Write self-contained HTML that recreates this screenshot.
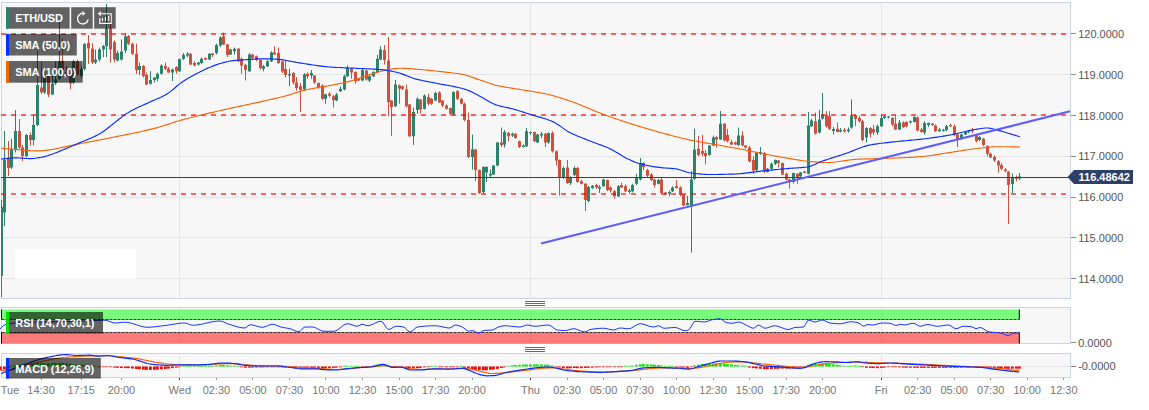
<!DOCTYPE html>
<html><head><meta charset="utf-8"><title>ETH/USD</title>
<style>html,body{margin:0;padding:0;background:#fff;overflow:hidden}body{width:1149px;height:410px;position:relative;font-family:"Liberation Sans",Arial,sans-serif}</style></head>
<body>
<svg width="1149" height="410" viewBox="0 0 1149 410" style="position:absolute;left:0;top:0">
<rect x="1.5" y="2.5" width="1069.0" height="296.0" fill="#f7f7f7" stroke="#cdd3e6" stroke-width="1"/>
<rect x="1.5" y="307.5" width="1069.0" height="36.0" fill="#f7f7f7" stroke="#cdd3e6" stroke-width="1"/>
<rect x="1.5" y="353.5" width="1069.0" height="24.0" fill="#f7f7f7" stroke="#cdd3e6" stroke-width="1"/>
<line x1="3" x2="1070" y1="33.5" y2="33.5" stroke="#e4e4e4" stroke-width="1"/>
<line x1="3" x2="1070" y1="74.5" y2="74.5" stroke="#e4e4e4" stroke-width="1"/>
<line x1="3" x2="1070" y1="115.5" y2="115.5" stroke="#e4e4e4" stroke-width="1"/>
<line x1="3" x2="1070" y1="156.5" y2="156.5" stroke="#e4e4e4" stroke-width="1"/>
<line x1="3" x2="1070" y1="197.5" y2="197.5" stroke="#e4e4e4" stroke-width="1"/>
<line x1="3" x2="1070" y1="237.5" y2="237.5" stroke="#e4e4e4" stroke-width="1"/>
<line x1="3" x2="1070" y1="278.5" y2="278.5" stroke="#e4e4e4" stroke-width="1"/>
<line x1="179.5" x2="179.5" y1="3.0" y2="298.0" stroke="#e4e4e4" stroke-width="1"/>
<line x1="179.5" x2="179.5" y1="308.0" y2="343.0" stroke="#e4e4e4" stroke-width="1"/>
<line x1="179.5" x2="179.5" y1="354.0" y2="377.0" stroke="#e4e4e4" stroke-width="1"/>
<line x1="530.5" x2="530.5" y1="3.0" y2="298.0" stroke="#e4e4e4" stroke-width="1"/>
<line x1="530.5" x2="530.5" y1="308.0" y2="343.0" stroke="#e4e4e4" stroke-width="1"/>
<line x1="530.5" x2="530.5" y1="354.0" y2="377.0" stroke="#e4e4e4" stroke-width="1"/>
<line x1="881.5" x2="881.5" y1="3.0" y2="298.0" stroke="#e4e4e4" stroke-width="1"/>
<line x1="881.5" x2="881.5" y1="308.0" y2="343.0" stroke="#e4e4e4" stroke-width="1"/>
<line x1="881.5" x2="881.5" y1="354.0" y2="377.0" stroke="#e4e4e4" stroke-width="1"/>
<rect x="15" y="249.25" width="121" height="29.5" fill="#ffffff"/>
<line x1="3" x2="1070" y1="366.5" y2="366.5" stroke="#e4e4e4" stroke-width="1"/>
<clipPath id="cp"><rect x="1" y="3" width="1069" height="295"/></clipPath>
<g id="candles" clip-path="url(#cp)">
<line x1="1.5" x2="1.5" y1="200.0" y2="297.0" stroke="#2b836c" stroke-width="1"/>
<rect x="0.0" y="207.0" width="3" height="69.00" fill="#2b836c"/>
<line x1="4.5" x2="4.5" y1="131.0" y2="226.0" stroke="#2b836c" stroke-width="1"/>
<rect x="3.0" y="160.0" width="3" height="52.50" fill="#2b836c"/>
<line x1="8.5" x2="8.5" y1="141.0" y2="176.0" stroke="#d04f3d" stroke-width="1"/>
<rect x="7.0" y="159.0" width="3" height="9.00" fill="#d04f3d"/>
<line x1="11.5" x2="11.5" y1="139.0" y2="169.0" stroke="#2b836c" stroke-width="1"/>
<rect x="10.0" y="149.0" width="3" height="18.50" fill="#2b836c"/>
<line x1="15.5" x2="15.5" y1="110.0" y2="152.5" stroke="#2b836c" stroke-width="1"/>
<rect x="14.0" y="131.0" width="3" height="18.00" fill="#2b836c"/>
<line x1="19.5" x2="19.5" y1="119.0" y2="149.0" stroke="#d04f3d" stroke-width="1"/>
<rect x="18.0" y="131.0" width="3" height="16.50" fill="#d04f3d"/>
<line x1="22.5" x2="22.5" y1="145.0" y2="161.0" stroke="#d04f3d" stroke-width="1"/>
<rect x="21.0" y="147.5" width="3" height="8.50" fill="#d04f3d"/>
<line x1="26.5" x2="26.5" y1="134.0" y2="157.0" stroke="#2b836c" stroke-width="1"/>
<rect x="25.0" y="135.0" width="3" height="21.00" fill="#2b836c"/>
<line x1="30.5" x2="30.5" y1="132.5" y2="145.5" stroke="#d04f3d" stroke-width="1"/>
<rect x="29.0" y="135.0" width="3" height="5.00" fill="#d04f3d"/>
<line x1="33.5" x2="33.5" y1="115.0" y2="145.5" stroke="#2b836c" stroke-width="1"/>
<rect x="32.0" y="125.0" width="3" height="15.00" fill="#2b836c"/>
<line x1="37.5" x2="37.5" y1="51.0" y2="126.0" stroke="#2b836c" stroke-width="1"/>
<rect x="36.0" y="85.0" width="3" height="40.00" fill="#2b836c"/>
<line x1="41.5" x2="41.5" y1="61.6" y2="93.9" stroke="#d04f3d" stroke-width="1"/>
<rect x="40.0" y="87.5" width="3" height="4.80" fill="#d04f3d"/>
<line x1="44.5" x2="44.5" y1="71.0" y2="94.0" stroke="#2b836c" stroke-width="1"/>
<rect x="43.0" y="77.0" width="3" height="15.40" fill="#2b836c"/>
<line x1="48.5" x2="48.5" y1="74.0" y2="97.0" stroke="#d04f3d" stroke-width="1"/>
<rect x="47.0" y="76.0" width="3" height="18.50" fill="#d04f3d"/>
<line x1="52.5" x2="52.5" y1="74.0" y2="95.0" stroke="#2b836c" stroke-width="1"/>
<rect x="51.0" y="83.5" width="3" height="11.00" fill="#2b836c"/>
<line x1="55.5" x2="55.5" y1="61.5" y2="85.0" stroke="#2b836c" stroke-width="1"/>
<rect x="54.0" y="79.5" width="3" height="4.00" fill="#2b836c"/>
<line x1="59.5" x2="59.5" y1="22.0" y2="80.0" stroke="#2b836c" stroke-width="1"/>
<rect x="58.0" y="61.5" width="3" height="17.50" fill="#2b836c"/>
<line x1="62.5" x2="62.5" y1="38.5" y2="72.7" stroke="#d04f3d" stroke-width="1"/>
<rect x="61.0" y="60.7" width="3" height="9.30" fill="#d04f3d"/>
<line x1="66.5" x2="66.5" y1="66.0" y2="76.0" stroke="#d04f3d" stroke-width="1"/>
<rect x="65.0" y="72.0" width="3" height="2.00" fill="#d04f3d"/>
<line x1="70.5" x2="70.5" y1="69.0" y2="89.0" stroke="#d04f3d" stroke-width="1"/>
<rect x="69.0" y="73.5" width="3" height="10.00" fill="#d04f3d"/>
<line x1="73.5" x2="73.5" y1="60.0" y2="84.0" stroke="#2b836c" stroke-width="1"/>
<rect x="72.0" y="61.5" width="3" height="21.00" fill="#2b836c"/>
<line x1="77.5" x2="77.5" y1="59.5" y2="76.0" stroke="#d04f3d" stroke-width="1"/>
<rect x="76.0" y="61.5" width="3" height="13.00" fill="#d04f3d"/>
<line x1="81.5" x2="81.5" y1="66.0" y2="78.0" stroke="#2b836c" stroke-width="1"/>
<rect x="80.0" y="69.0" width="3" height="7.00" fill="#2b836c"/>
<line x1="84.5" x2="84.5" y1="43.0" y2="70.5" stroke="#2b836c" stroke-width="1"/>
<rect x="83.0" y="44.0" width="3" height="25.00" fill="#2b836c"/>
<line x1="88.5" x2="88.5" y1="35.0" y2="64.0" stroke="#d04f3d" stroke-width="1"/>
<rect x="87.0" y="43.0" width="3" height="5.50" fill="#d04f3d"/>
<line x1="92.5" x2="92.5" y1="43.0" y2="64.0" stroke="#d04f3d" stroke-width="1"/>
<rect x="91.0" y="48.5" width="3" height="14.00" fill="#d04f3d"/>
<line x1="95.5" x2="95.5" y1="49.5" y2="64.0" stroke="#2b836c" stroke-width="1"/>
<rect x="94.0" y="59.5" width="3" height="3.00" fill="#2b836c"/>
<line x1="99.5" x2="99.5" y1="47.5" y2="61.5" stroke="#2b836c" stroke-width="1"/>
<rect x="98.0" y="49.5" width="3" height="10.00" fill="#2b836c"/>
<line x1="103.5" x2="103.5" y1="45.0" y2="57.0" stroke="#2b836c" stroke-width="1"/>
<rect x="102.0" y="46.0" width="3" height="3.50" fill="#2b836c"/>
<line x1="106.5" x2="106.5" y1="4.0" y2="57.0" stroke="#2b836c" stroke-width="1"/>
<rect x="105.0" y="28.5" width="3" height="17.50" fill="#2b836c"/>
<line x1="110.5" x2="110.5" y1="16.0" y2="62.5" stroke="#d04f3d" stroke-width="1"/>
<rect x="109.0" y="28.5" width="3" height="21.00" fill="#d04f3d"/>
<line x1="114.5" x2="114.5" y1="40.5" y2="62.5" stroke="#d04f3d" stroke-width="1"/>
<rect x="113.0" y="42.0" width="3" height="17.50" fill="#d04f3d"/>
<line x1="117.5" x2="117.5" y1="50.5" y2="61.5" stroke="#2b836c" stroke-width="1"/>
<rect x="116.0" y="53.0" width="3" height="7.50" fill="#2b836c"/>
<line x1="121.5" x2="121.5" y1="39.5" y2="60.5" stroke="#2b836c" stroke-width="1"/>
<rect x="120.0" y="51.5" width="3" height="8.00" fill="#2b836c"/>
<line x1="125.5" x2="125.5" y1="33.0" y2="53.0" stroke="#2b836c" stroke-width="1"/>
<rect x="124.0" y="36.5" width="3" height="14.00" fill="#2b836c"/>
<line x1="128.5" x2="128.5" y1="35.0" y2="45.0" stroke="#d04f3d" stroke-width="1"/>
<rect x="127.0" y="36.0" width="3" height="7.75" fill="#d04f3d"/>
<line x1="132.5" x2="132.5" y1="42.5" y2="55.0" stroke="#d04f3d" stroke-width="1"/>
<rect x="131.0" y="43.75" width="3" height="10.00" fill="#d04f3d"/>
<line x1="136.5" x2="136.5" y1="43.75" y2="73.75" stroke="#d04f3d" stroke-width="1"/>
<rect x="135.0" y="53.75" width="3" height="16.25" fill="#d04f3d"/>
<line x1="139.5" x2="139.5" y1="62.5" y2="75.0" stroke="#2b836c" stroke-width="1"/>
<rect x="138.0" y="66.0" width="3" height="4.00" fill="#2b836c"/>
<line x1="143.5" x2="143.5" y1="65.0" y2="77.5" stroke="#d04f3d" stroke-width="1"/>
<rect x="142.0" y="66.0" width="3" height="10.00" fill="#d04f3d"/>
<line x1="146.5" x2="146.5" y1="72.5" y2="85.0" stroke="#d04f3d" stroke-width="1"/>
<rect x="145.0" y="75.0" width="3" height="9.50" fill="#d04f3d"/>
<line x1="150.5" x2="150.5" y1="71.25" y2="84.5" stroke="#2b836c" stroke-width="1"/>
<rect x="149.0" y="80.0" width="3" height="3.75" fill="#2b836c"/>
<line x1="154.5" x2="154.5" y1="77.5" y2="82.5" stroke="#2b836c" stroke-width="1"/>
<rect x="153.0" y="77.5" width="3" height="2.50" fill="#2b836c"/>
<line x1="157.5" x2="157.5" y1="72.5" y2="81.25" stroke="#2b836c" stroke-width="1"/>
<rect x="156.0" y="73.75" width="3" height="5.00" fill="#2b836c"/>
<line x1="161.5" x2="161.5" y1="64.5" y2="74.5" stroke="#2b836c" stroke-width="1"/>
<rect x="160.0" y="65.5" width="3" height="8.25" fill="#2b836c"/>
<line x1="165.5" x2="165.5" y1="62.5" y2="70.0" stroke="#d04f3d" stroke-width="1"/>
<rect x="164.0" y="66.0" width="3" height="2.75" fill="#d04f3d"/>
<line x1="168.5" x2="168.5" y1="67.0" y2="73.0" stroke="#d04f3d" stroke-width="1"/>
<rect x="167.0" y="68.75" width="3" height="3.75" fill="#d04f3d"/>
<line x1="172.5" x2="172.5" y1="68.75" y2="81.0" stroke="#2b836c" stroke-width="1"/>
<rect x="171.0" y="69.5" width="3" height="3.00" fill="#2b836c"/>
<line x1="176.5" x2="176.5" y1="66.25" y2="73.75" stroke="#d04f3d" stroke-width="1"/>
<rect x="175.0" y="67.0" width="3" height="4.25" fill="#d04f3d"/>
<line x1="179.5" x2="179.5" y1="58.75" y2="72.0" stroke="#2b836c" stroke-width="1"/>
<rect x="178.0" y="59.0" width="3" height="12.25" fill="#2b836c"/>
<line x1="183.5" x2="183.5" y1="53.0" y2="60.0" stroke="#2b836c" stroke-width="1"/>
<rect x="182.0" y="55.0" width="3" height="3.75" fill="#2b836c"/>
<line x1="187.5" x2="187.5" y1="52.0" y2="57.0" stroke="#2b836c" stroke-width="1"/>
<rect x="186.0" y="53.75" width="3" height="1.75" fill="#2b836c"/>
<line x1="190.5" x2="190.5" y1="53.0" y2="65.0" stroke="#d04f3d" stroke-width="1"/>
<rect x="189.0" y="53.75" width="3" height="10.75" fill="#d04f3d"/>
<line x1="194.5" x2="194.5" y1="61.25" y2="66.25" stroke="#d04f3d" stroke-width="1"/>
<rect x="193.0" y="63.0" width="3" height="2.50" fill="#d04f3d"/>
<line x1="198.5" x2="198.5" y1="62.0" y2="65.5" stroke="#2b836c" stroke-width="1"/>
<rect x="197.0" y="62.5" width="3" height="2.00" fill="#2b836c"/>
<line x1="201.5" x2="201.5" y1="57.5" y2="63.75" stroke="#2b836c" stroke-width="1"/>
<rect x="200.0" y="58.75" width="3" height="4.25" fill="#2b836c"/>
<line x1="205.5" x2="205.5" y1="57.5" y2="60.0" stroke="#d04f3d" stroke-width="1"/>
<rect x="204.0" y="58.0" width="3" height="1.50" fill="#d04f3d"/>
<line x1="209.5" x2="209.5" y1="53.0" y2="60.0" stroke="#2b836c" stroke-width="1"/>
<rect x="208.0" y="53.75" width="3" height="5.75" fill="#2b836c"/>
<line x1="212.5" x2="212.5" y1="53.0" y2="57.0" stroke="#d04f3d" stroke-width="1"/>
<rect x="211.0" y="53.5" width="3" height="1.50" fill="#d04f3d"/>
<line x1="216.5" x2="216.5" y1="43.75" y2="54.5" stroke="#2b836c" stroke-width="1"/>
<rect x="215.0" y="45.0" width="3" height="8.00" fill="#2b836c"/>
<line x1="220.5" x2="220.5" y1="36.25" y2="47.0" stroke="#2b836c" stroke-width="1"/>
<rect x="219.0" y="37.5" width="3" height="8.00" fill="#2b836c"/>
<line x1="223.5" x2="223.5" y1="32.5" y2="45.0" stroke="#d04f3d" stroke-width="1"/>
<rect x="222.0" y="36.25" width="3" height="8.25" fill="#d04f3d"/>
<line x1="227.5" x2="227.5" y1="43.75" y2="57.0" stroke="#d04f3d" stroke-width="1"/>
<rect x="226.0" y="44.5" width="3" height="10.50" fill="#d04f3d"/>
<line x1="230.5" x2="230.5" y1="48.75" y2="55.0" stroke="#2b836c" stroke-width="1"/>
<rect x="229.0" y="49.5" width="3" height="5.00" fill="#2b836c"/>
<line x1="234.5" x2="234.5" y1="47.5" y2="54.5" stroke="#2b836c" stroke-width="1"/>
<rect x="233.0" y="48.75" width="3" height="2.50" fill="#2b836c"/>
<line x1="238.5" x2="238.5" y1="48.0" y2="62.0" stroke="#d04f3d" stroke-width="1"/>
<rect x="237.0" y="48.75" width="3" height="12.50" fill="#d04f3d"/>
<line x1="241.5" x2="241.5" y1="57.5" y2="73.75" stroke="#d04f3d" stroke-width="1"/>
<rect x="240.0" y="58.75" width="3" height="6.75" fill="#d04f3d"/>
<line x1="245.5" x2="245.5" y1="63.75" y2="80.5" stroke="#d04f3d" stroke-width="1"/>
<rect x="244.0" y="65.0" width="3" height="5.00" fill="#d04f3d"/>
<line x1="249.5" x2="249.5" y1="53.0" y2="72.0" stroke="#2b836c" stroke-width="1"/>
<rect x="248.0" y="54.5" width="3" height="16.75" fill="#2b836c"/>
<line x1="252.5" x2="252.5" y1="53.75" y2="59.5" stroke="#d04f3d" stroke-width="1"/>
<rect x="251.0" y="54.5" width="3" height="3.50" fill="#d04f3d"/>
<line x1="256.5" x2="256.5" y1="55.5" y2="61.25" stroke="#d04f3d" stroke-width="1"/>
<rect x="255.0" y="56.25" width="3" height="3.75" fill="#d04f3d"/>
<line x1="260.5" x2="260.5" y1="59.5" y2="69.5" stroke="#d04f3d" stroke-width="1"/>
<rect x="259.0" y="60.0" width="3" height="8.00" fill="#d04f3d"/>
<line x1="263.5" x2="263.5" y1="65.0" y2="71.25" stroke="#2b836c" stroke-width="1"/>
<rect x="262.0" y="66.25" width="3" height="2.50" fill="#2b836c"/>
<line x1="267.5" x2="267.5" y1="60.0" y2="67.0" stroke="#2b836c" stroke-width="1"/>
<rect x="266.0" y="61.25" width="3" height="5.00" fill="#2b836c"/>
<line x1="271.5" x2="271.5" y1="51.25" y2="62.0" stroke="#2b836c" stroke-width="1"/>
<rect x="270.0" y="52.5" width="3" height="8.75" fill="#2b836c"/>
<line x1="274.5" x2="274.5" y1="46.25" y2="55.0" stroke="#d04f3d" stroke-width="1"/>
<rect x="273.0" y="52.5" width="3" height="2.00" fill="#d04f3d"/>
<line x1="278.5" x2="278.5" y1="47.5" y2="63.75" stroke="#d04f3d" stroke-width="1"/>
<rect x="277.0" y="53.0" width="3" height="10.00" fill="#d04f3d"/>
<line x1="282.5" x2="282.5" y1="60.5" y2="73.0" stroke="#d04f3d" stroke-width="1"/>
<rect x="281.0" y="61.5" width="3" height="10.00" fill="#d04f3d"/>
<line x1="285.5" x2="285.5" y1="60.0" y2="77.5" stroke="#d04f3d" stroke-width="1"/>
<rect x="284.0" y="69.0" width="3" height="6.00" fill="#d04f3d"/>
<line x1="289.5" x2="289.5" y1="68.75" y2="86.0" stroke="#2b836c" stroke-width="1"/>
<rect x="288.0" y="74.0" width="3" height="1.50" fill="#2b836c"/>
<line x1="293.5" x2="293.5" y1="72.0" y2="84.5" stroke="#d04f3d" stroke-width="1"/>
<rect x="292.0" y="73.0" width="3" height="9.50" fill="#d04f3d"/>
<line x1="296.5" x2="296.5" y1="77.0" y2="90.5" stroke="#d04f3d" stroke-width="1"/>
<rect x="295.0" y="82.5" width="3" height="5.50" fill="#d04f3d"/>
<line x1="300.5" x2="300.5" y1="83.0" y2="112.0" stroke="#d04f3d" stroke-width="1"/>
<rect x="299.0" y="86.25" width="3" height="3.75" fill="#d04f3d"/>
<line x1="304.5" x2="304.5" y1="73.0" y2="91.25" stroke="#2b836c" stroke-width="1"/>
<rect x="303.0" y="74.5" width="3" height="15.00" fill="#2b836c"/>
<line x1="307.5" x2="307.5" y1="72.5" y2="78.75" stroke="#d04f3d" stroke-width="1"/>
<rect x="306.0" y="73.75" width="3" height="2.50" fill="#d04f3d"/>
<line x1="311.5" x2="311.5" y1="70.0" y2="78.75" stroke="#2b836c" stroke-width="1"/>
<rect x="310.0" y="73.0" width="3" height="2.50" fill="#2b836c"/>
<line x1="314.5" x2="314.5" y1="75.0" y2="83.75" stroke="#d04f3d" stroke-width="1"/>
<rect x="313.0" y="75.5" width="3" height="7.00" fill="#d04f3d"/>
<line x1="318.5" x2="318.5" y1="82.5" y2="88.75" stroke="#d04f3d" stroke-width="1"/>
<rect x="317.0" y="83.0" width="3" height="4.50" fill="#d04f3d"/>
<line x1="322.5" x2="322.5" y1="84.5" y2="100.0" stroke="#d04f3d" stroke-width="1"/>
<rect x="321.0" y="85.5" width="3" height="13.25" fill="#d04f3d"/>
<line x1="325.5" x2="325.5" y1="93.75" y2="103.75" stroke="#2b836c" stroke-width="1"/>
<rect x="324.0" y="94.25" width="3" height="4.50" fill="#2b836c"/>
<line x1="329.5" x2="329.5" y1="92.0" y2="97.5" stroke="#d04f3d" stroke-width="1"/>
<rect x="328.0" y="93.75" width="3" height="2.00" fill="#d04f3d"/>
<line x1="333.5" x2="333.5" y1="95.0" y2="107.5" stroke="#d04f3d" stroke-width="1"/>
<rect x="332.0" y="96.25" width="3" height="3.75" fill="#d04f3d"/>
<line x1="336.5" x2="336.5" y1="93.0" y2="101.25" stroke="#2b836c" stroke-width="1"/>
<rect x="335.0" y="94.5" width="3" height="6.00" fill="#2b836c"/>
<line x1="340.5" x2="340.5" y1="86.25" y2="92.0" stroke="#2b836c" stroke-width="1"/>
<rect x="339.0" y="88.75" width="3" height="2.50" fill="#2b836c"/>
<line x1="344.5" x2="344.5" y1="74.5" y2="90.5" stroke="#2b836c" stroke-width="1"/>
<rect x="343.0" y="76.25" width="3" height="13.25" fill="#2b836c"/>
<line x1="347.5" x2="347.5" y1="65.5" y2="77.0" stroke="#2b836c" stroke-width="1"/>
<rect x="346.0" y="68.0" width="3" height="8.25" fill="#2b836c"/>
<line x1="351.5" x2="351.5" y1="68.0" y2="78.75" stroke="#d04f3d" stroke-width="1"/>
<rect x="350.0" y="68.75" width="3" height="3.75" fill="#d04f3d"/>
<line x1="355.5" x2="355.5" y1="71.25" y2="83.75" stroke="#d04f3d" stroke-width="1"/>
<rect x="354.0" y="72.0" width="3" height="9.25" fill="#d04f3d"/>
<line x1="358.5" x2="358.5" y1="78.0" y2="81.0" stroke="#d04f3d" stroke-width="1"/>
<rect x="357.0" y="78.75" width="3" height="1.75" fill="#d04f3d"/>
<line x1="362.5" x2="362.5" y1="68.75" y2="81.25" stroke="#2b836c" stroke-width="1"/>
<rect x="361.0" y="70.0" width="3" height="10.50" fill="#2b836c"/>
<line x1="366.5" x2="366.5" y1="69.5" y2="80.5" stroke="#d04f3d" stroke-width="1"/>
<rect x="365.0" y="70.5" width="3" height="9.00" fill="#d04f3d"/>
<line x1="369.5" x2="369.5" y1="75.0" y2="82.0" stroke="#2b836c" stroke-width="1"/>
<rect x="368.0" y="76.25" width="3" height="4.25" fill="#2b836c"/>
<line x1="373.5" x2="373.5" y1="71.25" y2="77.0" stroke="#2b836c" stroke-width="1"/>
<rect x="372.0" y="72.0" width="3" height="4.25" fill="#2b836c"/>
<line x1="377.5" x2="377.5" y1="55.0" y2="72.5" stroke="#2b836c" stroke-width="1"/>
<rect x="376.0" y="58.75" width="3" height="13.25" fill="#2b836c"/>
<line x1="380.5" x2="380.5" y1="46.25" y2="60.0" stroke="#2b836c" stroke-width="1"/>
<rect x="379.0" y="49.5" width="3" height="10.00" fill="#2b836c"/>
<line x1="384.5" x2="384.5" y1="45.0" y2="64.5" stroke="#d04f3d" stroke-width="1"/>
<rect x="383.0" y="50.0" width="3" height="10.00" fill="#d04f3d"/>
<line x1="388.5" x2="388.5" y1="37.0" y2="116.0" stroke="#d04f3d" stroke-width="1"/>
<rect x="387.0" y="60.5" width="3" height="41.50" fill="#d04f3d"/>
<line x1="391.5" x2="391.5" y1="100.0" y2="136.0" stroke="#d04f3d" stroke-width="1"/>
<rect x="390.0" y="100.5" width="3" height="6.50" fill="#d04f3d"/>
<line x1="395.5" x2="395.5" y1="80.0" y2="107.0" stroke="#2b836c" stroke-width="1"/>
<rect x="394.0" y="84.5" width="3" height="21.75" fill="#2b836c"/>
<line x1="399.5" x2="399.5" y1="84.5" y2="103.75" stroke="#d04f3d" stroke-width="1"/>
<rect x="398.0" y="85.5" width="3" height="3.25" fill="#d04f3d"/>
<line x1="402.5" x2="402.5" y1="85.5" y2="90.0" stroke="#d04f3d" stroke-width="1"/>
<rect x="401.0" y="86.25" width="3" height="2.50" fill="#d04f3d"/>
<line x1="406.5" x2="406.5" y1="84.5" y2="107.5" stroke="#d04f3d" stroke-width="1"/>
<rect x="405.0" y="89.5" width="3" height="16.75" fill="#d04f3d"/>
<line x1="409.5" x2="409.5" y1="104.0" y2="137.0" stroke="#d04f3d" stroke-width="1"/>
<rect x="408.0" y="104.5" width="3" height="31.75" fill="#d04f3d"/>
<line x1="413.5" x2="413.5" y1="107.5" y2="145.0" stroke="#2b836c" stroke-width="1"/>
<rect x="412.0" y="112.0" width="3" height="24.25" fill="#2b836c"/>
<line x1="417.5" x2="417.5" y1="97.5" y2="113.75" stroke="#2b836c" stroke-width="1"/>
<rect x="416.0" y="98.75" width="3" height="11.25" fill="#2b836c"/>
<line x1="420.5" x2="420.5" y1="98.75" y2="113.75" stroke="#d04f3d" stroke-width="1"/>
<rect x="419.0" y="99.5" width="3" height="10.00" fill="#d04f3d"/>
<line x1="424.5" x2="424.5" y1="94.5" y2="109.5" stroke="#2b836c" stroke-width="1"/>
<rect x="423.0" y="95.5" width="3" height="13.25" fill="#2b836c"/>
<line x1="428.5" x2="428.5" y1="93.75" y2="105.5" stroke="#d04f3d" stroke-width="1"/>
<rect x="427.0" y="97.0" width="3" height="6.75" fill="#d04f3d"/>
<line x1="431.5" x2="431.5" y1="98.0" y2="105.0" stroke="#d04f3d" stroke-width="1"/>
<rect x="430.0" y="98.75" width="3" height="5.00" fill="#d04f3d"/>
<line x1="435.5" x2="435.5" y1="92.0" y2="101.25" stroke="#2b836c" stroke-width="1"/>
<rect x="434.0" y="93.0" width="3" height="7.50" fill="#2b836c"/>
<line x1="439.5" x2="439.5" y1="91.25" y2="103.0" stroke="#d04f3d" stroke-width="1"/>
<rect x="438.0" y="92.5" width="3" height="10.00" fill="#d04f3d"/>
<line x1="442.5" x2="442.5" y1="100.0" y2="107.0" stroke="#d04f3d" stroke-width="1"/>
<rect x="441.0" y="100.5" width="3" height="5.00" fill="#d04f3d"/>
<line x1="446.5" x2="446.5" y1="104.5" y2="109.5" stroke="#d04f3d" stroke-width="1"/>
<rect x="445.0" y="105.5" width="3" height="3.25" fill="#d04f3d"/>
<line x1="450.5" x2="450.5" y1="107.5" y2="115.0" stroke="#d04f3d" stroke-width="1"/>
<rect x="449.0" y="108.0" width="3" height="5.75" fill="#d04f3d"/>
<line x1="453.5" x2="453.5" y1="91.25" y2="115.0" stroke="#2b836c" stroke-width="1"/>
<rect x="452.0" y="92.0" width="3" height="22.50" fill="#2b836c"/>
<line x1="457.5" x2="457.5" y1="90.0" y2="100.0" stroke="#d04f3d" stroke-width="1"/>
<rect x="456.0" y="91.25" width="3" height="7.50" fill="#d04f3d"/>
<line x1="461.5" x2="461.5" y1="98.0" y2="104.5" stroke="#d04f3d" stroke-width="1"/>
<rect x="460.0" y="98.75" width="3" height="5.00" fill="#d04f3d"/>
<line x1="464.5" x2="464.5" y1="102.5" y2="121.25" stroke="#d04f3d" stroke-width="1"/>
<rect x="463.0" y="103.75" width="3" height="16.25" fill="#d04f3d"/>
<line x1="468.5" x2="468.5" y1="112.5" y2="158.0" stroke="#d04f3d" stroke-width="1"/>
<rect x="467.0" y="120.0" width="3" height="37.00" fill="#d04f3d"/>
<line x1="472.5" x2="472.5" y1="134.5" y2="169.5" stroke="#2b836c" stroke-width="1"/>
<rect x="471.0" y="149.5" width="3" height="7.50" fill="#2b836c"/>
<line x1="475.5" x2="475.5" y1="148.75" y2="181.0" stroke="#d04f3d" stroke-width="1"/>
<rect x="474.0" y="149.5" width="3" height="20.50" fill="#d04f3d"/>
<line x1="479.5" x2="479.5" y1="169.5" y2="194.0" stroke="#d04f3d" stroke-width="1"/>
<rect x="478.0" y="170.0" width="3" height="23.00" fill="#d04f3d"/>
<line x1="483.5" x2="483.5" y1="166.25" y2="194.0" stroke="#2b836c" stroke-width="1"/>
<rect x="482.0" y="167.0" width="3" height="25.00" fill="#2b836c"/>
<line x1="486.5" x2="486.5" y1="166.25" y2="182.0" stroke="#2b836c" stroke-width="1"/>
<rect x="485.0" y="167.0" width="3" height="5.50" fill="#2b836c"/>
<line x1="490.5" x2="490.5" y1="169.5" y2="177.0" stroke="#2b836c" stroke-width="1"/>
<rect x="489.0" y="173.75" width="3" height="1.75" fill="#2b836c"/>
<line x1="493.5" x2="493.5" y1="165.0" y2="175.0" stroke="#2b836c" stroke-width="1"/>
<rect x="492.0" y="165.5" width="3" height="9.00" fill="#2b836c"/>
<line x1="497.5" x2="497.5" y1="142.0" y2="166.25" stroke="#2b836c" stroke-width="1"/>
<rect x="496.0" y="142.5" width="3" height="23.00" fill="#2b836c"/>
<line x1="501.5" x2="501.5" y1="127.5" y2="147.0" stroke="#d04f3d" stroke-width="1"/>
<rect x="500.0" y="142.5" width="3" height="2.50" fill="#d04f3d"/>
<line x1="504.5" x2="504.5" y1="130.0" y2="147.5" stroke="#2b836c" stroke-width="1"/>
<rect x="503.0" y="132.0" width="3" height="12.50" fill="#2b836c"/>
<line x1="508.5" x2="508.5" y1="132.0" y2="141.25" stroke="#d04f3d" stroke-width="1"/>
<rect x="507.0" y="133.0" width="3" height="3.25" fill="#d04f3d"/>
<line x1="512.5" x2="512.5" y1="132.5" y2="137.0" stroke="#2b836c" stroke-width="1"/>
<rect x="511.0" y="133.75" width="3" height="1.75" fill="#2b836c"/>
<line x1="515.5" x2="515.5" y1="133.0" y2="138.75" stroke="#d04f3d" stroke-width="1"/>
<rect x="514.0" y="133.75" width="3" height="4.25" fill="#d04f3d"/>
<line x1="519.5" x2="519.5" y1="140.5" y2="148.0" stroke="#d04f3d" stroke-width="1"/>
<rect x="518.0" y="141.25" width="3" height="5.75" fill="#d04f3d"/>
<line x1="523.5" x2="523.5" y1="144.5" y2="147.5" stroke="#2b836c" stroke-width="1"/>
<rect x="522.0" y="145.5" width="3" height="1.50" fill="#2b836c"/>
<line x1="526.5" x2="526.5" y1="128.0" y2="147.0" stroke="#2b836c" stroke-width="1"/>
<rect x="525.0" y="131.25" width="3" height="15.00" fill="#2b836c"/>
<line x1="530.5" x2="530.5" y1="131.5" y2="135.0" stroke="#2b836c" stroke-width="1"/>
<rect x="529.0" y="132.0" width="3" height="1.00" fill="#2b836c"/>
<line x1="534.5" x2="534.5" y1="131.5" y2="142.0" stroke="#d04f3d" stroke-width="1"/>
<rect x="533.0" y="132.0" width="3" height="9.25" fill="#d04f3d"/>
<line x1="537.5" x2="537.5" y1="133.75" y2="143.0" stroke="#2b836c" stroke-width="1"/>
<rect x="536.0" y="134.5" width="3" height="8.00" fill="#2b836c"/>
<line x1="541.5" x2="541.5" y1="132.0" y2="138.0" stroke="#2b836c" stroke-width="1"/>
<rect x="540.0" y="133.75" width="3" height="1.75" fill="#2b836c"/>
<line x1="545.5" x2="545.5" y1="133.0" y2="147.0" stroke="#d04f3d" stroke-width="1"/>
<rect x="544.0" y="133.75" width="3" height="8.75" fill="#d04f3d"/>
<line x1="548.5" x2="548.5" y1="132.5" y2="143.75" stroke="#2b836c" stroke-width="1"/>
<rect x="547.0" y="133.0" width="3" height="9.50" fill="#2b836c"/>
<line x1="552.5" x2="552.5" y1="131.25" y2="152.5" stroke="#d04f3d" stroke-width="1"/>
<rect x="551.0" y="133.0" width="3" height="18.25" fill="#d04f3d"/>
<line x1="556.5" x2="556.5" y1="150.5" y2="165.5" stroke="#d04f3d" stroke-width="1"/>
<rect x="555.0" y="151.25" width="3" height="9.25" fill="#d04f3d"/>
<line x1="559.5" x2="559.5" y1="159.5" y2="195.5" stroke="#d04f3d" stroke-width="1"/>
<rect x="558.0" y="160.0" width="3" height="17.50" fill="#d04f3d"/>
<line x1="563.5" x2="563.5" y1="166.5" y2="179.0" stroke="#2b836c" stroke-width="1"/>
<rect x="562.0" y="168.0" width="3" height="9.50" fill="#2b836c"/>
<line x1="567.5" x2="567.5" y1="160.0" y2="183.75" stroke="#d04f3d" stroke-width="1"/>
<rect x="566.0" y="167.5" width="3" height="15.50" fill="#d04f3d"/>
<line x1="570.5" x2="570.5" y1="176.25" y2="185.0" stroke="#2b836c" stroke-width="1"/>
<rect x="569.0" y="177.5" width="3" height="5.50" fill="#2b836c"/>
<line x1="574.5" x2="574.5" y1="166.25" y2="176.25" stroke="#2b836c" stroke-width="1"/>
<rect x="573.0" y="168.0" width="3" height="7.00" fill="#2b836c"/>
<line x1="577.5" x2="577.5" y1="167.0" y2="183.0" stroke="#d04f3d" stroke-width="1"/>
<rect x="576.0" y="168.0" width="3" height="14.00" fill="#d04f3d"/>
<line x1="581.5" x2="581.5" y1="180.0" y2="184.5" stroke="#d04f3d" stroke-width="1"/>
<rect x="580.0" y="181.25" width="3" height="2.50" fill="#d04f3d"/>
<line x1="585.5" x2="585.5" y1="183.0" y2="211.0" stroke="#d04f3d" stroke-width="1"/>
<rect x="584.0" y="183.75" width="3" height="16.25" fill="#d04f3d"/>
<line x1="588.5" x2="588.5" y1="186.0" y2="202.5" stroke="#2b836c" stroke-width="1"/>
<rect x="587.0" y="187.0" width="3" height="14.00" fill="#2b836c"/>
<line x1="592.5" x2="592.5" y1="185.0" y2="189.0" stroke="#2b836c" stroke-width="1"/>
<rect x="591.0" y="185.5" width="3" height="2.50" fill="#2b836c"/>
<line x1="596.5" x2="596.5" y1="183.75" y2="188.75" stroke="#d04f3d" stroke-width="1"/>
<rect x="595.0" y="185.0" width="3" height="2.50" fill="#d04f3d"/>
<line x1="599.5" x2="599.5" y1="185.0" y2="193.0" stroke="#2b836c" stroke-width="1"/>
<rect x="598.0" y="187.0" width="3" height="1.75" fill="#2b836c"/>
<line x1="603.5" x2="603.5" y1="178.75" y2="187.0" stroke="#2b836c" stroke-width="1"/>
<rect x="602.0" y="179.5" width="3" height="6.75" fill="#2b836c"/>
<line x1="607.5" x2="607.5" y1="179.5" y2="191.25" stroke="#d04f3d" stroke-width="1"/>
<rect x="606.0" y="180.0" width="3" height="10.00" fill="#d04f3d"/>
<line x1="610.5" x2="610.5" y1="186.25" y2="192.5" stroke="#d04f3d" stroke-width="1"/>
<rect x="609.0" y="187.5" width="3" height="3.00" fill="#d04f3d"/>
<line x1="614.5" x2="614.5" y1="190.0" y2="198.75" stroke="#d04f3d" stroke-width="1"/>
<rect x="613.0" y="191.25" width="3" height="5.00" fill="#d04f3d"/>
<line x1="618.5" x2="618.5" y1="185.0" y2="197.0" stroke="#2b836c" stroke-width="1"/>
<rect x="617.0" y="186.25" width="3" height="10.00" fill="#2b836c"/>
<line x1="621.5" x2="621.5" y1="182.5" y2="188.0" stroke="#d04f3d" stroke-width="1"/>
<rect x="620.0" y="185.0" width="3" height="2.50" fill="#d04f3d"/>
<line x1="625.5" x2="625.5" y1="184.5" y2="192.0" stroke="#d04f3d" stroke-width="1"/>
<rect x="624.0" y="186.25" width="3" height="5.00" fill="#d04f3d"/>
<line x1="629.5" x2="629.5" y1="188.75" y2="193.75" stroke="#2b836c" stroke-width="1"/>
<rect x="628.0" y="190.5" width="3" height="1.50" fill="#2b836c"/>
<line x1="632.5" x2="632.5" y1="183.75" y2="192.5" stroke="#2b836c" stroke-width="1"/>
<rect x="631.0" y="185.0" width="3" height="6.25" fill="#2b836c"/>
<line x1="636.5" x2="636.5" y1="173.75" y2="185.0" stroke="#2b836c" stroke-width="1"/>
<rect x="635.0" y="177.0" width="3" height="6.75" fill="#2b836c"/>
<line x1="640.5" x2="640.5" y1="158.0" y2="180.5" stroke="#2b836c" stroke-width="1"/>
<rect x="639.0" y="163.0" width="3" height="16.50" fill="#2b836c"/>
<line x1="643.5" x2="643.5" y1="162.0" y2="170.0" stroke="#d04f3d" stroke-width="1"/>
<rect x="642.0" y="163.0" width="3" height="4.00" fill="#d04f3d"/>
<line x1="647.5" x2="647.5" y1="168.75" y2="177.0" stroke="#d04f3d" stroke-width="1"/>
<rect x="646.0" y="170.0" width="3" height="5.50" fill="#d04f3d"/>
<line x1="651.5" x2="651.5" y1="173.0" y2="181.25" stroke="#d04f3d" stroke-width="1"/>
<rect x="650.0" y="174.5" width="3" height="5.50" fill="#d04f3d"/>
<line x1="654.5" x2="654.5" y1="178.75" y2="187.5" stroke="#d04f3d" stroke-width="1"/>
<rect x="653.0" y="179.5" width="3" height="5.50" fill="#d04f3d"/>
<line x1="658.5" x2="658.5" y1="178.75" y2="184.5" stroke="#2b836c" stroke-width="1"/>
<rect x="657.0" y="180.0" width="3" height="3.75" fill="#2b836c"/>
<line x1="661.5" x2="661.5" y1="177.5" y2="193.75" stroke="#d04f3d" stroke-width="1"/>
<rect x="660.0" y="179.5" width="3" height="13.50" fill="#d04f3d"/>
<line x1="665.5" x2="665.5" y1="192.0" y2="195.0" stroke="#d04f3d" stroke-width="1"/>
<rect x="664.0" y="192.5" width="3" height="2.00" fill="#d04f3d"/>
<line x1="669.5" x2="669.5" y1="190.5" y2="196.25" stroke="#2b836c" stroke-width="1"/>
<rect x="668.0" y="192.0" width="3" height="1.75" fill="#2b836c"/>
<line x1="672.5" x2="672.5" y1="186.25" y2="192.0" stroke="#2b836c" stroke-width="1"/>
<rect x="671.0" y="187.5" width="3" height="3.75" fill="#2b836c"/>
<line x1="676.5" x2="676.5" y1="180.0" y2="188.75" stroke="#d04f3d" stroke-width="1"/>
<rect x="675.0" y="186.25" width="3" height="1.75" fill="#d04f3d"/>
<line x1="680.5" x2="680.5" y1="186.25" y2="196.25" stroke="#d04f3d" stroke-width="1"/>
<rect x="679.0" y="187.5" width="3" height="7.50" fill="#d04f3d"/>
<line x1="683.5" x2="683.5" y1="194.0" y2="206.0" stroke="#d04f3d" stroke-width="1"/>
<rect x="682.0" y="194.5" width="3" height="11.00" fill="#d04f3d"/>
<line x1="687.5" x2="687.5" y1="196.0" y2="205.5" stroke="#2b836c" stroke-width="1"/>
<rect x="686.0" y="203.0" width="3" height="2.00" fill="#2b836c"/>
<line x1="691.5" x2="691.5" y1="171.0" y2="252.5" stroke="#2b836c" stroke-width="1"/>
<rect x="690.0" y="179.5" width="3" height="25.50" fill="#2b836c"/>
<line x1="694.5" x2="694.5" y1="128.75" y2="180.0" stroke="#2b836c" stroke-width="1"/>
<rect x="693.0" y="149.5" width="3" height="29.25" fill="#2b836c"/>
<line x1="698.5" x2="698.5" y1="136.0" y2="156.25" stroke="#d04f3d" stroke-width="1"/>
<rect x="697.0" y="148.75" width="3" height="6.25" fill="#d04f3d"/>
<line x1="702.5" x2="702.5" y1="135.0" y2="156.25" stroke="#d04f3d" stroke-width="1"/>
<rect x="701.0" y="151.0" width="3" height="2.75" fill="#d04f3d"/>
<line x1="705.5" x2="705.5" y1="150.0" y2="164.5" stroke="#d04f3d" stroke-width="1"/>
<rect x="704.0" y="153.0" width="3" height="3.25" fill="#d04f3d"/>
<line x1="709.5" x2="709.5" y1="145.0" y2="155.5" stroke="#2b836c" stroke-width="1"/>
<rect x="708.0" y="145.5" width="3" height="9.50" fill="#2b836c"/>
<line x1="713.5" x2="713.5" y1="135.5" y2="146.25" stroke="#2b836c" stroke-width="1"/>
<rect x="712.0" y="137.5" width="3" height="8.00" fill="#2b836c"/>
<line x1="716.5" x2="716.5" y1="136.25" y2="147.5" stroke="#d04f3d" stroke-width="1"/>
<rect x="715.0" y="137.0" width="3" height="2.50" fill="#d04f3d"/>
<line x1="720.5" x2="720.5" y1="111.0" y2="140.0" stroke="#2b836c" stroke-width="1"/>
<rect x="719.0" y="123.75" width="3" height="15.75" fill="#2b836c"/>
<line x1="724.5" x2="724.5" y1="123.0" y2="141.5" stroke="#d04f3d" stroke-width="1"/>
<rect x="723.0" y="123.75" width="3" height="16.75" fill="#d04f3d"/>
<line x1="727.5" x2="727.5" y1="128.75" y2="142.5" stroke="#d04f3d" stroke-width="1"/>
<rect x="726.0" y="135.0" width="3" height="6.25" fill="#d04f3d"/>
<line x1="731.5" x2="731.5" y1="140.0" y2="145.0" stroke="#d04f3d" stroke-width="1"/>
<rect x="730.0" y="142.0" width="3" height="2.50" fill="#d04f3d"/>
<line x1="735.5" x2="735.5" y1="141.5" y2="145.0" stroke="#d04f3d" stroke-width="1"/>
<rect x="734.0" y="142.5" width="3" height="2.00" fill="#d04f3d"/>
<line x1="738.5" x2="738.5" y1="127.5" y2="146.25" stroke="#2b836c" stroke-width="1"/>
<rect x="737.0" y="135.5" width="3" height="9.50" fill="#2b836c"/>
<line x1="742.5" x2="742.5" y1="131.25" y2="146.25" stroke="#d04f3d" stroke-width="1"/>
<rect x="741.0" y="135.5" width="3" height="10.00" fill="#d04f3d"/>
<line x1="745.5" x2="745.5" y1="145.0" y2="148.75" stroke="#d04f3d" stroke-width="1"/>
<rect x="744.0" y="145.5" width="3" height="2.00" fill="#d04f3d"/>
<line x1="749.5" x2="749.5" y1="146.25" y2="162.5" stroke="#d04f3d" stroke-width="1"/>
<rect x="748.0" y="147.5" width="3" height="13.75" fill="#d04f3d"/>
<line x1="753.5" x2="753.5" y1="156.25" y2="173.75" stroke="#d04f3d" stroke-width="1"/>
<rect x="752.0" y="160.0" width="3" height="10.50" fill="#d04f3d"/>
<line x1="756.5" x2="756.5" y1="152.0" y2="171.25" stroke="#2b836c" stroke-width="1"/>
<rect x="755.0" y="153.0" width="3" height="17.00" fill="#2b836c"/>
<line x1="760.5" x2="760.5" y1="147.0" y2="155.0" stroke="#2b836c" stroke-width="1"/>
<rect x="759.0" y="152.0" width="3" height="1.75" fill="#2b836c"/>
<line x1="764.5" x2="764.5" y1="152.0" y2="173.0" stroke="#d04f3d" stroke-width="1"/>
<rect x="763.0" y="153.0" width="3" height="18.25" fill="#d04f3d"/>
<line x1="767.5" x2="767.5" y1="168.0" y2="172.5" stroke="#2b836c" stroke-width="1"/>
<rect x="766.0" y="168.75" width="3" height="3.25" fill="#2b836c"/>
<line x1="771.5" x2="771.5" y1="162.5" y2="169.5" stroke="#2b836c" stroke-width="1"/>
<rect x="770.0" y="163.75" width="3" height="5.00" fill="#2b836c"/>
<line x1="775.5" x2="775.5" y1="159.5" y2="165.0" stroke="#2b836c" stroke-width="1"/>
<rect x="774.0" y="160.0" width="3" height="3.75" fill="#2b836c"/>
<line x1="778.5" x2="778.5" y1="160.0" y2="167.5" stroke="#d04f3d" stroke-width="1"/>
<rect x="777.0" y="160.5" width="3" height="2.50" fill="#d04f3d"/>
<line x1="782.5" x2="782.5" y1="162.5" y2="175.0" stroke="#d04f3d" stroke-width="1"/>
<rect x="781.0" y="163.0" width="3" height="11.50" fill="#d04f3d"/>
<line x1="786.5" x2="786.5" y1="172.5" y2="180.5" stroke="#d04f3d" stroke-width="1"/>
<rect x="785.0" y="173.75" width="3" height="5.75" fill="#d04f3d"/>
<line x1="789.5" x2="789.5" y1="178.75" y2="188.75" stroke="#d04f3d" stroke-width="1"/>
<rect x="788.0" y="179.5" width="3" height="1.75" fill="#d04f3d"/>
<line x1="793.5" x2="793.5" y1="172.5" y2="183.5" stroke="#2b836c" stroke-width="1"/>
<rect x="792.0" y="173.0" width="3" height="9.00" fill="#2b836c"/>
<line x1="797.5" x2="797.5" y1="173.0" y2="183.75" stroke="#d04f3d" stroke-width="1"/>
<rect x="796.0" y="173.75" width="3" height="3.75" fill="#d04f3d"/>
<line x1="800.5" x2="800.5" y1="172.0" y2="177.0" stroke="#2b836c" stroke-width="1"/>
<rect x="799.0" y="172.5" width="3" height="3.75" fill="#2b836c"/>
<line x1="804.5" x2="804.5" y1="171.0" y2="173.5" stroke="#d04f3d" stroke-width="1"/>
<rect x="803.0" y="171.5" width="3" height="1.50" fill="#d04f3d"/>
<line x1="808.5" x2="808.5" y1="112.0" y2="174.5" stroke="#2b836c" stroke-width="1"/>
<rect x="807.0" y="125.5" width="3" height="48.25" fill="#2b836c"/>
<line x1="811.5" x2="811.5" y1="118.75" y2="127.0" stroke="#2b836c" stroke-width="1"/>
<rect x="810.0" y="120.5" width="3" height="5.75" fill="#2b836c"/>
<line x1="815.5" x2="815.5" y1="112.5" y2="134.5" stroke="#d04f3d" stroke-width="1"/>
<rect x="814.0" y="121.25" width="3" height="12.50" fill="#d04f3d"/>
<line x1="819.5" x2="819.5" y1="110.0" y2="133.5" stroke="#2b836c" stroke-width="1"/>
<rect x="818.0" y="119.5" width="3" height="13.00" fill="#2b836c"/>
<line x1="822.5" x2="822.5" y1="93.0" y2="119.5" stroke="#2b836c" stroke-width="1"/>
<rect x="821.0" y="114.5" width="3" height="4.25" fill="#2b836c"/>
<line x1="826.5" x2="826.5" y1="111.25" y2="127.5" stroke="#d04f3d" stroke-width="1"/>
<rect x="825.0" y="115.0" width="3" height="11.25" fill="#d04f3d"/>
<line x1="829.5" x2="829.5" y1="111.25" y2="130.0" stroke="#d04f3d" stroke-width="1"/>
<rect x="828.0" y="116.25" width="3" height="12.50" fill="#d04f3d"/>
<line x1="833.5" x2="833.5" y1="127.0" y2="134.5" stroke="#2b836c" stroke-width="1"/>
<rect x="832.0" y="129.0" width="3" height="2.00" fill="#2b836c"/>
<line x1="837.5" x2="837.5" y1="122.5" y2="132.5" stroke="#d04f3d" stroke-width="1"/>
<rect x="836.0" y="128.75" width="3" height="3.25" fill="#d04f3d"/>
<line x1="840.5" x2="840.5" y1="128.0" y2="132.5" stroke="#2b836c" stroke-width="1"/>
<rect x="839.0" y="130.0" width="3" height="1.50" fill="#2b836c"/>
<line x1="844.5" x2="844.5" y1="128.0" y2="132.5" stroke="#d04f3d" stroke-width="1"/>
<rect x="843.0" y="130.0" width="3" height="1.50" fill="#d04f3d"/>
<line x1="848.5" x2="848.5" y1="127.5" y2="132.5" stroke="#2b836c" stroke-width="1"/>
<rect x="847.0" y="129.5" width="3" height="1.75" fill="#2b836c"/>
<line x1="851.5" x2="851.5" y1="99.5" y2="128.75" stroke="#2b836c" stroke-width="1"/>
<rect x="850.0" y="115.5" width="3" height="12.00" fill="#2b836c"/>
<line x1="855.5" x2="855.5" y1="114.5" y2="126.25" stroke="#d04f3d" stroke-width="1"/>
<rect x="854.0" y="115.0" width="3" height="3.75" fill="#d04f3d"/>
<line x1="859.5" x2="859.5" y1="116.25" y2="122.5" stroke="#d04f3d" stroke-width="1"/>
<rect x="858.0" y="118.0" width="3" height="3.25" fill="#d04f3d"/>
<line x1="862.5" x2="862.5" y1="120.0" y2="141.25" stroke="#d04f3d" stroke-width="1"/>
<rect x="861.0" y="121.25" width="3" height="18.75" fill="#d04f3d"/>
<line x1="866.5" x2="866.5" y1="127.0" y2="142.5" stroke="#2b836c" stroke-width="1"/>
<rect x="865.0" y="128.0" width="3" height="9.50" fill="#2b836c"/>
<line x1="870.5" x2="870.5" y1="127.0" y2="137.5" stroke="#d04f3d" stroke-width="1"/>
<rect x="869.0" y="128.0" width="3" height="5.75" fill="#d04f3d"/>
<line x1="873.5" x2="873.5" y1="125.0" y2="135.0" stroke="#d04f3d" stroke-width="1"/>
<rect x="872.0" y="129.0" width="3" height="3.50" fill="#d04f3d"/>
<line x1="877.5" x2="877.5" y1="124.5" y2="135.0" stroke="#2b836c" stroke-width="1"/>
<rect x="876.0" y="126.25" width="3" height="6.25" fill="#2b836c"/>
<line x1="881.5" x2="881.5" y1="115.0" y2="127.0" stroke="#2b836c" stroke-width="1"/>
<rect x="880.0" y="118.0" width="3" height="8.25" fill="#2b836c"/>
<line x1="884.5" x2="884.5" y1="115.5" y2="119.0" stroke="#2b836c" stroke-width="1"/>
<rect x="883.0" y="116.25" width="3" height="1.75" fill="#2b836c"/>
<line x1="888.5" x2="888.5" y1="116.0" y2="118.5" stroke="#2b836c" stroke-width="1"/>
<rect x="887.0" y="116.5" width="3" height="1.00" fill="#2b836c"/>
<line x1="892.5" x2="892.5" y1="117.0" y2="126.25" stroke="#d04f3d" stroke-width="1"/>
<rect x="891.0" y="118.0" width="3" height="6.50" fill="#d04f3d"/>
<line x1="895.5" x2="895.5" y1="115.0" y2="130.0" stroke="#d04f3d" stroke-width="1"/>
<rect x="894.0" y="123.75" width="3" height="5.75" fill="#d04f3d"/>
<line x1="899.5" x2="899.5" y1="120.0" y2="130.0" stroke="#2b836c" stroke-width="1"/>
<rect x="898.0" y="122.5" width="3" height="7.00" fill="#2b836c"/>
<line x1="903.5" x2="903.5" y1="121.25" y2="128.0" stroke="#d04f3d" stroke-width="1"/>
<rect x="902.0" y="122.5" width="3" height="4.50" fill="#d04f3d"/>
<line x1="906.5" x2="906.5" y1="121.25" y2="127.5" stroke="#d04f3d" stroke-width="1"/>
<rect x="905.0" y="122.0" width="3" height="4.25" fill="#d04f3d"/>
<line x1="910.5" x2="910.5" y1="120.5" y2="123.5" stroke="#2b836c" stroke-width="1"/>
<rect x="909.0" y="121.25" width="3" height="1.25" fill="#2b836c"/>
<line x1="914.5" x2="914.5" y1="116.25" y2="122.5" stroke="#2b836c" stroke-width="1"/>
<rect x="913.0" y="117.0" width="3" height="5.00" fill="#2b836c"/>
<line x1="917.5" x2="917.5" y1="116.25" y2="131.25" stroke="#d04f3d" stroke-width="1"/>
<rect x="916.0" y="117.5" width="3" height="13.00" fill="#d04f3d"/>
<line x1="921.5" x2="921.5" y1="128.0" y2="132.5" stroke="#d04f3d" stroke-width="1"/>
<rect x="920.0" y="129.5" width="3" height="2.50" fill="#d04f3d"/>
<line x1="924.5" x2="924.5" y1="121.25" y2="134.5" stroke="#2b836c" stroke-width="1"/>
<rect x="923.0" y="123.0" width="3" height="9.50" fill="#2b836c"/>
<line x1="928.5" x2="928.5" y1="122.5" y2="127.0" stroke="#2b836c" stroke-width="1"/>
<rect x="927.0" y="123.0" width="3" height="2.00" fill="#2b836c"/>
<line x1="932.5" x2="932.5" y1="123.0" y2="126.0" stroke="#d04f3d" stroke-width="1"/>
<rect x="931.0" y="123.75" width="3" height="1.25" fill="#d04f3d"/>
<line x1="935.5" x2="935.5" y1="124.5" y2="132.0" stroke="#d04f3d" stroke-width="1"/>
<rect x="934.0" y="125.5" width="3" height="5.75" fill="#d04f3d"/>
<line x1="939.5" x2="939.5" y1="128.0" y2="131.5" stroke="#2b836c" stroke-width="1"/>
<rect x="938.0" y="129.5" width="3" height="1.75" fill="#2b836c"/>
<line x1="943.5" x2="943.5" y1="129.0" y2="131.5" stroke="#2b836c" stroke-width="1"/>
<rect x="942.0" y="130.0" width="3" height="1.00" fill="#2b836c"/>
<line x1="946.5" x2="946.5" y1="125.0" y2="131.25" stroke="#2b836c" stroke-width="1"/>
<rect x="945.0" y="126.25" width="3" height="3.75" fill="#2b836c"/>
<line x1="950.5" x2="950.5" y1="123.5" y2="127.0" stroke="#d04f3d" stroke-width="1"/>
<rect x="949.0" y="125.0" width="3" height="1.20" fill="#d04f3d"/>
<line x1="954.5" x2="954.5" y1="124.5" y2="136.25" stroke="#d04f3d" stroke-width="1"/>
<rect x="953.0" y="126.25" width="3" height="8.75" fill="#d04f3d"/>
<line x1="957.5" x2="957.5" y1="133.75" y2="147.0" stroke="#d04f3d" stroke-width="1"/>
<rect x="956.0" y="134.5" width="3" height="4.25" fill="#d04f3d"/>
<line x1="961.5" x2="961.5" y1="133.75" y2="140.0" stroke="#2b836c" stroke-width="1"/>
<rect x="960.0" y="134.5" width="3" height="3.50" fill="#2b836c"/>
<line x1="965.5" x2="965.5" y1="131.25" y2="135.0" stroke="#2b836c" stroke-width="1"/>
<rect x="964.0" y="132.0" width="3" height="2.50" fill="#2b836c"/>
<line x1="968.5" x2="968.5" y1="130.5" y2="133.0" stroke="#2b836c" stroke-width="1"/>
<rect x="967.0" y="131.25" width="3" height="1.25" fill="#2b836c"/>
<line x1="972.5" x2="972.5" y1="128.0" y2="133.0" stroke="#d04f3d" stroke-width="1"/>
<rect x="971.0" y="130.0" width="3" height="1.20" fill="#d04f3d"/>
<line x1="976.5" x2="976.5" y1="133.75" y2="142.5" stroke="#d04f3d" stroke-width="1"/>
<rect x="975.0" y="135.0" width="3" height="6.25" fill="#d04f3d"/>
<line x1="979.5" x2="979.5" y1="136.25" y2="141.25" stroke="#2b836c" stroke-width="1"/>
<rect x="978.0" y="137.0" width="3" height="3.00" fill="#2b836c"/>
<line x1="983.5" x2="983.5" y1="138.0" y2="146.25" stroke="#d04f3d" stroke-width="1"/>
<rect x="982.0" y="138.75" width="3" height="6.25" fill="#d04f3d"/>
<line x1="987.5" x2="987.5" y1="145.0" y2="156.25" stroke="#d04f3d" stroke-width="1"/>
<rect x="986.0" y="146.25" width="3" height="7.50" fill="#d04f3d"/>
<line x1="990.5" x2="990.5" y1="152.5" y2="158.0" stroke="#d04f3d" stroke-width="1"/>
<rect x="989.0" y="153.75" width="3" height="3.75" fill="#d04f3d"/>
<line x1="994.5" x2="994.5" y1="155.5" y2="162.0" stroke="#d04f3d" stroke-width="1"/>
<rect x="993.0" y="157.0" width="3" height="3.50" fill="#d04f3d"/>
<line x1="998.5" x2="998.5" y1="160.0" y2="172.5" stroke="#d04f3d" stroke-width="1"/>
<rect x="997.0" y="161.25" width="3" height="4.25" fill="#d04f3d"/>
<line x1="1001.5" x2="1001.5" y1="163.0" y2="170.0" stroke="#d04f3d" stroke-width="1"/>
<rect x="1000.0" y="165.0" width="3" height="3.75" fill="#d04f3d"/>
<line x1="1005.5" x2="1005.5" y1="168.0" y2="172.0" stroke="#d04f3d" stroke-width="1"/>
<rect x="1004.0" y="169.5" width="3" height="1.75" fill="#d04f3d"/>
<line x1="1008.5" x2="1008.5" y1="171.0" y2="224.0" stroke="#d04f3d" stroke-width="1"/>
<rect x="1007.0" y="172.0" width="3" height="13.00" fill="#d04f3d"/>
<line x1="1012.5" x2="1012.5" y1="173.5" y2="193.0" stroke="#2b836c" stroke-width="1"/>
<rect x="1011.0" y="178.0" width="3" height="6.00" fill="#2b836c"/>
<line x1="1016.5" x2="1016.5" y1="175.5" y2="181.5" stroke="#d04f3d" stroke-width="1"/>
<rect x="1015.0" y="177.5" width="3" height="1.30" fill="#d04f3d"/>
<line x1="1019.5" x2="1019.5" y1="173.0" y2="180.0" stroke="#2b836c" stroke-width="1"/>
<rect x="1018.0" y="176.5" width="3" height="2.00" fill="#2b836c"/>
</g>
<line x1="1" x2="1066.5" y1="34" y2="34" stroke="rgba(255,0,0,0.6)" stroke-width="2" stroke-dasharray="5,5"/>
<line x1="1" x2="1066.5" y1="115" y2="115" stroke="rgba(255,0,0,0.6)" stroke-width="2" stroke-dasharray="5,5"/>
<line x1="1" x2="1066.5" y1="194" y2="194" stroke="rgba(255,0,0,0.6)" stroke-width="2" stroke-dasharray="5,5"/>
<line x1="1" x2="1070" y1="177.5" y2="177.5" stroke="#2c4168" stroke-width="1"/>
<polyline points="1.3,148.30 3.3,148.44 5.3,148.59 7.3,148.74 9.3,148.90 11.3,149.06 13.3,149.22 15.3,149.39 17.3,149.58 19.3,149.79 21.3,150.01 23.3,150.22 25.3,150.41 27.3,150.55 29.3,150.65 31.3,150.73 33.3,150.80 35.3,150.86 37.3,150.89 39.3,150.89 41.3,150.81 43.3,150.64 45.3,150.42 47.3,150.16 49.3,149.88 51.3,149.60 53.3,149.29 55.3,148.91 57.3,148.49 59.3,148.04 61.3,147.59 63.3,147.15 65.3,146.73 67.3,146.32 69.3,145.90 71.3,145.49 73.3,145.07 75.3,144.66 77.3,144.25 79.3,143.84 81.3,143.44 83.3,143.05 85.3,142.66 87.3,142.27 89.3,141.88 91.3,141.50 93.3,141.12 95.3,140.74 97.3,140.36 99.3,139.98 101.3,139.60 103.3,139.22 105.3,138.83 107.3,138.44 109.3,138.04 111.3,137.64 113.3,137.24 115.3,136.83 117.3,136.43 119.3,136.03 121.3,135.63 123.3,135.24 125.3,134.84 127.3,134.43 129.3,134.03 131.3,133.62 133.3,133.21 135.3,132.79 137.3,132.37 139.3,131.94 141.3,131.51 143.3,131.06 145.3,130.61 147.3,130.14 149.3,129.67 151.3,129.18 153.3,128.68 155.3,128.17 157.3,127.63 159.3,127.05 161.3,126.44 163.3,125.81 165.3,125.16 167.3,124.50 169.3,123.84 171.3,123.18 173.3,122.52 175.3,121.89 177.3,121.28 179.3,120.70 181.3,120.14 183.3,119.60 185.3,119.06 187.3,118.54 189.3,118.02 191.3,117.51 193.3,117.00 195.3,116.50 197.3,116.00 199.3,115.52 201.3,115.03 203.3,114.55 205.3,114.07 207.3,113.60 209.3,113.13 211.3,112.66 213.3,112.20 215.3,111.74 217.3,111.27 219.3,110.81 221.3,110.35 223.3,109.89 225.3,109.43 227.3,108.97 229.3,108.52 231.3,108.08 233.3,107.64 235.3,107.20 237.3,106.77 239.3,106.34 241.3,105.91 243.3,105.49 245.3,105.06 247.3,104.64 249.3,104.22 251.3,103.79 253.3,103.36 255.3,102.93 257.3,102.50 259.3,102.07 261.3,101.63 263.3,101.18 265.3,100.73 267.3,100.28 269.3,99.81 271.3,99.35 273.3,98.89 275.3,98.42 277.3,97.95 279.3,97.47 281.3,96.98 283.3,96.47 285.3,95.95 287.3,95.42 289.3,94.84 291.3,94.21 293.3,93.56 295.3,92.89 297.3,92.23 299.3,91.58 301.3,90.97 303.3,90.42 305.3,89.93 307.3,89.49 309.3,89.09 311.3,88.71 313.3,88.35 315.3,88.01 317.3,87.68 319.3,87.35 321.3,87.03 323.3,86.70 325.3,86.36 327.3,86.01 329.3,85.64 331.3,85.25 333.3,84.86 335.3,84.47 337.3,84.07 339.3,83.67 341.3,83.26 343.3,82.83 345.3,82.38 347.3,81.92 349.3,81.43 351.3,80.90 353.3,80.32 355.3,79.70 357.3,79.03 359.3,78.34 361.3,77.63 363.3,76.91 365.3,76.19 367.3,75.48 369.3,74.78 371.3,74.12 373.3,73.50 375.3,72.92 377.3,72.35 379.3,71.80 381.3,71.27 383.3,70.77 385.3,70.33 387.3,69.95 389.3,69.58 391.3,69.21 393.3,68.87 395.3,68.58 397.3,68.37 399.3,68.26 401.3,68.26 403.3,68.31 405.3,68.39 407.3,68.50 409.3,68.63 411.3,68.78 413.3,68.94 415.3,69.11 417.3,69.28 419.3,69.45 421.3,69.60 423.3,69.77 425.3,69.96 427.3,70.15 429.3,70.35 431.3,70.56 433.3,70.78 435.3,71.00 437.3,71.22 439.3,71.44 441.3,71.67 443.3,71.89 445.3,72.11 447.3,72.32 449.3,72.53 451.3,72.75 453.3,72.98 455.3,73.23 457.3,73.50 459.3,73.80 461.3,74.13 463.3,74.51 465.3,75.00 467.3,75.58 469.3,76.22 471.3,76.92 473.3,77.64 475.3,78.37 477.3,79.09 479.3,79.77 481.3,80.43 483.3,81.11 485.3,81.82 487.3,82.52 489.3,83.22 491.3,83.89 493.3,84.51 495.3,85.08 497.3,85.57 499.3,86.00 501.3,86.41 503.3,86.78 505.3,87.14 507.3,87.47 509.3,87.79 511.3,88.11 513.3,88.42 515.3,88.73 517.3,89.05 519.3,89.38 521.3,89.72 523.3,90.05 525.3,90.37 527.3,90.68 529.3,90.99 531.3,91.30 533.3,91.62 535.3,91.95 537.3,92.28 539.3,92.63 541.3,93.00 543.3,93.40 545.3,93.81 547.3,94.26 549.3,94.75 551.3,95.26 553.3,95.80 555.3,96.36 557.3,96.95 559.3,97.55 561.3,98.17 563.3,98.81 565.3,99.45 567.3,100.10 569.3,100.77 571.3,101.48 573.3,102.21 575.3,102.98 577.3,103.76 579.3,104.56 581.3,105.38 583.3,106.20 585.3,107.04 587.3,107.88 589.3,108.73 591.3,109.57 593.3,110.40 595.3,111.23 597.3,112.04 599.3,112.84 601.3,113.62 603.3,114.38 605.3,115.11 607.3,115.82 609.3,116.53 611.3,117.23 613.3,117.92 615.3,118.60 617.3,119.28 619.3,119.95 621.3,120.61 623.3,121.27 625.3,121.92 627.3,122.57 629.3,123.21 631.3,123.84 633.3,124.47 635.3,125.09 637.3,125.71 639.3,126.33 641.3,126.94 643.3,127.54 645.3,128.14 647.3,128.74 649.3,129.33 651.3,129.91 653.3,130.49 655.3,131.06 657.3,131.63 659.3,132.19 661.3,132.74 663.3,133.29 665.3,133.83 667.3,134.37 669.3,134.90 671.3,135.44 673.3,135.97 675.3,136.49 677.3,137.01 679.3,137.52 681.3,138.01 683.3,138.50 685.3,138.96 687.3,139.42 689.3,139.85 691.3,140.27 693.3,140.67 695.3,141.05 697.3,141.42 699.3,141.78 701.3,142.13 703.3,142.47 705.3,142.82 707.3,143.16 709.3,143.50 711.3,143.84 713.3,144.19 715.3,144.55 717.3,144.92 719.3,145.28 721.3,145.64 723.3,146.00 725.3,146.36 727.3,146.72 729.3,147.08 731.3,147.44 733.3,147.80 735.3,148.17 737.3,148.54 739.3,148.91 741.3,149.29 743.3,149.67 745.3,150.06 747.3,150.45 749.3,150.86 751.3,151.27 753.3,151.69 755.3,152.11 757.3,152.53 759.3,152.95 761.3,153.37 763.3,153.77 765.3,154.17 767.3,154.56 769.3,154.94 771.3,155.31 773.3,155.69 775.3,156.06 777.3,156.42 779.3,156.78 781.3,157.14 783.3,157.49 785.3,157.83 787.3,158.16 789.3,158.49 791.3,158.81 793.3,159.14 795.3,159.48 797.3,159.81 799.3,160.13 801.3,160.45 803.3,160.74 805.3,161.01 807.3,161.24 809.3,161.44 811.3,161.61 813.3,161.77 815.3,161.93 817.3,162.08 819.3,162.21 821.3,162.33 823.3,162.42 825.3,162.48 827.3,162.50 829.3,162.47 831.3,162.38 833.3,162.23 835.3,162.03 837.3,161.79 839.3,161.52 841.3,161.24 843.3,160.94 845.3,160.63 847.3,160.34 849.3,160.05 851.3,159.80 853.3,159.57 855.3,159.39 857.3,159.26 859.3,159.17 861.3,159.08 863.3,159.01 865.3,158.94 867.3,158.88 869.3,158.82 871.3,158.77 873.3,158.72 875.3,158.67 877.3,158.62 879.3,158.57 881.3,158.52 883.3,158.47 885.3,158.41 887.3,158.35 889.3,158.28 891.3,158.20 893.3,158.12 895.3,158.05 897.3,157.97 899.3,157.88 901.3,157.80 903.3,157.71 905.3,157.62 907.3,157.52 909.3,157.42 911.3,157.31 913.3,157.20 915.3,157.07 917.3,156.94 919.3,156.80 921.3,156.65 923.3,156.46 925.3,156.25 927.3,156.00 929.3,155.74 931.3,155.46 933.3,155.16 935.3,154.85 937.3,154.53 939.3,154.20 941.3,153.87 943.3,153.54 945.3,153.22 947.3,152.91 949.3,152.60 951.3,152.31 953.3,152.00 955.3,151.69 957.3,151.36 959.3,151.04 961.3,150.71 963.3,150.39 965.3,150.08 967.3,149.77 969.3,149.48 971.3,149.21 973.3,148.95 975.3,148.72 977.3,148.48 979.3,148.24 981.3,147.99 983.3,147.75 985.3,147.52 987.3,147.30 989.3,147.12 991.3,146.96 993.3,146.84 995.3,146.77 997.3,146.75 999.3,146.75 1001.3,146.75 1003.3,146.76 1005.3,146.76 1007.3,146.77 1009.3,146.79 1011.3,146.81 1013.3,146.84 1015.3,146.88 1017.3,146.92 1019.3,146.98 1020.0,147.00" fill="none" stroke="#f56505" stroke-width="1.15" stroke-linejoin="round" />
<polyline points="1.3,159.10 3.3,158.82 5.3,158.56 7.3,158.34 9.3,158.16 11.3,158.02 13.3,157.93 15.3,157.90 17.3,157.93 19.3,158.01 21.3,158.13 23.3,158.26 25.3,158.40 27.3,158.51 29.3,158.58 31.3,158.59 33.3,158.48 35.3,158.26 37.3,157.95 39.3,157.60 41.3,157.25 43.3,156.83 45.3,156.33 47.3,155.76 49.3,155.14 51.3,154.50 53.3,153.81 55.3,153.05 57.3,152.24 59.3,151.39 61.3,150.54 63.3,149.69 65.3,148.86 67.3,148.03 69.3,147.18 71.3,146.33 73.3,145.48 75.3,144.62 77.3,143.76 79.3,142.90 81.3,142.05 83.3,141.23 85.3,140.42 87.3,139.61 89.3,138.79 91.3,137.95 93.3,137.06 95.3,136.12 97.3,135.11 99.3,133.99 101.3,132.76 103.3,131.43 105.3,130.01 107.3,128.51 109.3,126.96 111.3,125.37 113.3,123.76 115.3,122.13 117.3,120.52 119.3,118.93 121.3,117.38 123.3,115.89 125.3,114.46 127.3,113.13 129.3,111.90 131.3,110.78 133.3,109.72 135.3,108.72 137.3,107.76 139.3,106.83 141.3,105.92 143.3,105.03 145.3,104.14 147.3,103.24 149.3,102.33 151.3,101.40 153.3,100.53 155.3,99.68 157.3,98.83 159.3,97.96 161.3,97.05 163.3,96.07 165.3,95.00 167.3,93.79 169.3,92.38 171.3,90.84 173.3,89.26 175.3,87.56 177.3,85.79 179.3,84.13 181.3,82.66 183.3,81.28 185.3,79.99 187.3,78.75 189.3,77.59 191.3,76.48 193.3,75.40 195.3,74.33 197.3,73.26 199.3,72.21 201.3,71.18 203.3,70.19 205.3,69.25 207.3,68.37 209.3,67.52 211.3,66.68 213.3,65.87 215.3,65.11 217.3,64.41 219.3,63.77 221.3,63.21 223.3,62.68 225.3,62.17 227.3,61.69 229.3,61.27 231.3,60.90 233.3,60.61 235.3,60.40 237.3,60.24 239.3,60.10 241.3,59.98 243.3,59.86 245.3,59.76 247.3,59.64 249.3,59.51 251.3,59.36 253.3,59.21 255.3,59.06 257.3,58.93 259.3,58.84 261.3,58.80 263.3,58.81 265.3,58.83 267.3,58.86 269.3,58.91 271.3,58.98 273.3,59.05 275.3,59.13 277.3,59.23 279.3,59.34 281.3,59.56 283.3,59.89 285.3,60.28 287.3,60.69 289.3,61.08 291.3,61.42 293.3,61.77 295.3,62.12 297.3,62.48 299.3,62.83 301.3,63.16 303.3,63.49 305.3,63.79 307.3,64.10 309.3,64.40 311.3,64.70 313.3,65.01 315.3,65.30 317.3,65.59 319.3,65.86 321.3,66.12 323.3,66.36 325.3,66.58 327.3,66.78 329.3,66.95 331.3,67.09 333.3,67.22 335.3,67.34 337.3,67.45 339.3,67.55 341.3,67.64 343.3,67.73 345.3,67.82 347.3,67.90 349.3,67.99 351.3,68.08 353.3,68.17 355.3,68.26 357.3,68.36 359.3,68.45 361.3,68.53 363.3,68.62 365.3,68.70 367.3,68.78 369.3,68.87 371.3,68.96 373.3,69.07 375.3,69.18 377.3,69.31 379.3,69.45 381.3,69.61 383.3,69.83 385.3,70.09 387.3,70.39 389.3,70.72 391.3,71.10 393.3,71.53 395.3,72.01 397.3,72.52 399.3,73.06 401.3,73.64 403.3,74.34 405.3,75.11 407.3,75.93 409.3,76.75 411.3,77.53 413.3,78.24 415.3,78.83 417.3,79.35 419.3,79.82 421.3,80.27 423.3,80.69 425.3,81.09 427.3,81.48 429.3,81.86 431.3,82.25 433.3,82.65 435.3,83.06 437.3,83.47 439.3,83.85 441.3,84.22 443.3,84.59 445.3,84.94 447.3,85.30 449.3,85.66 451.3,86.03 453.3,86.42 455.3,86.82 457.3,87.26 459.3,87.72 461.3,88.22 463.3,88.76 465.3,89.34 467.3,90.04 469.3,90.86 471.3,91.78 473.3,92.77 475.3,93.80 477.3,94.85 479.3,95.89 481.3,96.94 483.3,98.09 485.3,99.31 487.3,100.54 489.3,101.74 491.3,102.85 493.3,103.82 495.3,104.60 497.3,105.25 499.3,105.82 501.3,106.33 503.3,106.79 505.3,107.23 507.3,107.66 509.3,108.09 511.3,108.55 513.3,109.04 515.3,109.59 517.3,110.18 519.3,110.80 521.3,111.45 523.3,112.11 525.3,112.78 527.3,113.45 529.3,114.12 531.3,114.78 533.3,115.40 535.3,115.99 537.3,116.55 539.3,117.10 541.3,117.65 543.3,118.22 545.3,118.82 547.3,119.47 549.3,120.17 551.3,120.96 553.3,121.86 555.3,122.98 557.3,124.24 559.3,125.55 561.3,126.89 563.3,128.37 565.3,129.84 567.3,131.14 569.3,132.22 571.3,133.23 573.3,134.17 575.3,135.06 577.3,135.91 579.3,136.72 581.3,137.52 583.3,138.31 585.3,139.11 587.3,139.92 589.3,140.73 591.3,141.50 593.3,142.24 595.3,142.97 597.3,143.70 599.3,144.42 601.3,145.16 603.3,145.92 605.3,146.71 607.3,147.54 609.3,148.43 611.3,149.39 613.3,150.46 615.3,151.63 617.3,152.85 619.3,154.09 621.3,155.33 623.3,156.53 625.3,157.64 627.3,158.66 629.3,159.59 631.3,160.50 633.3,161.38 635.3,162.19 637.3,162.93 639.3,163.56 641.3,164.08 643.3,164.58 645.3,165.04 647.3,165.47 649.3,165.87 651.3,166.24 653.3,166.58 655.3,166.89 657.3,167.17 659.3,167.42 661.3,167.64 663.3,167.81 665.3,167.96 667.3,168.09 669.3,168.22 671.3,168.37 673.3,168.56 675.3,168.79 677.3,169.17 679.3,169.69 681.3,170.31 683.3,170.98 685.3,171.64 687.3,172.24 689.3,172.72 691.3,173.04 693.3,173.28 695.3,173.51 697.3,173.73 699.3,173.93 701.3,174.11 703.3,174.26 705.3,174.38 707.3,174.46 709.3,174.50 711.3,174.50 713.3,174.49 715.3,174.47 717.3,174.45 719.3,174.42 721.3,174.38 723.3,174.34 725.3,174.29 727.3,174.24 729.3,174.18 731.3,174.12 733.3,174.06 735.3,173.99 737.3,173.89 739.3,173.75 741.3,173.57 743.3,173.36 745.3,173.13 747.3,172.87 749.3,172.61 751.3,172.34 753.3,172.07 755.3,171.81 757.3,171.56 759.3,171.32 761.3,171.11 763.3,170.90 765.3,170.69 767.3,170.49 769.3,170.28 771.3,170.07 773.3,169.87 775.3,169.67 777.3,169.47 779.3,169.28 781.3,169.09 783.3,168.90 785.3,168.72 787.3,168.56 789.3,168.42 791.3,168.30 793.3,168.17 795.3,168.05 797.3,167.93 799.3,167.79 801.3,167.62 803.3,167.44 805.3,167.22 807.3,166.96 809.3,166.52 811.3,165.86 813.3,165.06 815.3,164.17 817.3,163.24 819.3,162.33 821.3,161.51 823.3,160.79 825.3,160.11 827.3,159.44 829.3,158.79 831.3,158.15 833.3,157.51 835.3,156.88 837.3,156.25 839.3,155.62 841.3,154.97 843.3,154.32 845.3,153.65 847.3,152.94 849.3,152.18 851.3,151.40 853.3,150.60 855.3,149.79 857.3,148.99 859.3,148.22 861.3,147.48 863.3,146.79 865.3,146.16 867.3,145.60 869.3,145.14 871.3,144.76 873.3,144.42 875.3,144.10 877.3,143.81 879.3,143.54 881.3,143.28 883.3,143.04 885.3,142.81 887.3,142.59 889.3,142.38 891.3,142.16 893.3,141.94 895.3,141.72 897.3,141.50 899.3,141.29 901.3,141.09 903.3,140.90 905.3,140.71 907.3,140.52 909.3,140.34 911.3,140.16 913.3,139.97 915.3,139.78 917.3,139.59 919.3,139.39 921.3,139.17 923.3,138.95 925.3,138.71 927.3,138.47 929.3,138.21 931.3,137.94 933.3,137.67 935.3,137.38 937.3,137.09 939.3,136.78 941.3,136.47 943.3,136.15 945.3,135.81 947.3,135.47 949.3,135.12 951.3,134.76 953.3,134.35 955.3,133.91 957.3,133.45 959.3,132.96 961.3,132.47 963.3,131.98 965.3,131.49 967.3,131.02 969.3,130.57 971.3,130.16 973.3,129.78 975.3,129.45 977.3,129.12 979.3,128.79 981.3,128.47 983.3,128.22 985.3,128.05 987.3,128.00 989.3,128.17 991.3,128.54 993.3,129.04 995.3,129.57 997.3,130.07 999.3,130.58 1001.3,131.13 1003.3,131.72 1005.3,132.32 1007.3,132.94 1009.3,133.54 1011.3,134.13 1013.3,134.73 1015.3,135.33 1017.3,135.93 1019.3,136.54 1020.0,136.75" fill="none" stroke="#0a2cff" stroke-width="1.15" stroke-linejoin="round" />
<line x1="541" y1="243.5" x2="1070" y2="111.3" stroke="#5d5efb" stroke-width="2.1"/>
<rect x="1.5" y="309.5" width="1017.8" height="10" fill="rgba(0,255,0,0.5)"/>
<rect x="1.5" y="332.5" width="1017.8" height="11" fill="rgba(255,0,0,0.5)"/>
<line x1="1.5" x2="1019.3" y1="319.5" y2="319.5" stroke="#000" stroke-width="0.75" stroke-dasharray="3,1"/>
<line x1="1.5" x2="1019.3" y1="332.5" y2="332.5" stroke="#000" stroke-width="0.75" stroke-dasharray="3,1"/>
<line x1="1.5" x2="1.5" y1="309.5" y2="319.5" stroke="#000" stroke-width="1"/>
<line x1="1019.3" x2="1019.3" y1="309.5" y2="319.5" stroke="#000" stroke-width="1"/>
<line x1="1.5" x2="1.5" y1="332.5" y2="343.5" stroke="#000" stroke-width="1"/>
<line x1="1019.3" x2="1019.3" y1="332.5" y2="343.5" stroke="#000" stroke-width="1"/>
<polyline points="0.0,329.00 2.0,326.88 4.0,325.22 6.0,324.45 8.0,323.96 10.0,323.57 12.0,323.29 14.0,323.08 16.0,322.93 18.0,322.80 20.0,322.69 22.0,322.58 24.0,322.49 26.0,322.41 28.0,322.33 30.0,322.27 32.0,322.21 34.0,322.15 36.0,322.10 38.0,322.05 40.0,322.00 42.0,321.96 44.0,321.92 46.0,321.88 48.0,321.85 50.0,321.82 52.0,321.79 54.0,321.76 56.0,321.74 58.0,321.71 60.0,321.68 62.0,321.65 64.0,321.62 66.0,321.58 68.0,321.54 70.0,321.50 72.0,321.45 74.0,321.38 76.0,321.30 78.0,321.22 80.0,321.13 82.0,321.04 84.0,320.95 86.0,320.86 88.0,320.77 90.0,320.68 92.0,320.60 94.0,320.53 96.0,320.47 98.0,320.40 100.0,320.34 102.0,320.29 104.0,320.25 106.0,320.33 108.0,320.84 110.0,321.62 112.0,322.41 114.0,322.92 116.0,322.98 118.0,322.84 120.0,322.62 122.0,322.41 124.0,322.27 126.0,322.28 128.0,322.49 130.0,322.88 132.0,323.40 134.0,324.01 136.0,324.67 138.0,325.33 140.0,325.95 142.0,326.50 144.0,326.92 146.0,327.19 148.0,327.25 150.0,327.19 152.0,327.06 154.0,326.87 156.0,326.65 158.0,326.40 160.0,326.13 162.0,325.86 164.0,325.62 166.0,325.38 168.0,325.11 170.0,324.80 172.0,324.47 174.0,324.14 176.0,323.82 178.0,323.53 180.0,323.29 182.0,323.11 184.0,323.01 186.0,323.11 188.0,323.79 190.0,324.67 192.0,325.22 194.0,325.21 196.0,325.06 198.0,324.81 200.0,324.47 202.0,324.08 204.0,323.64 206.0,323.18 208.0,322.72 210.0,322.28 212.0,321.87 214.0,321.52 216.0,321.24 218.0,321.06 220.0,321.00 222.0,321.31 224.0,322.07 226.0,323.02 228.0,323.91 230.0,324.55 232.0,325.17 234.0,325.81 236.0,326.42 238.0,326.97 240.0,327.44 242.0,327.79 244.0,327.97 246.0,327.66 248.0,325.89 250.0,324.75 252.0,324.92 254.0,325.35 256.0,325.93 258.0,326.51 260.0,326.99 262.0,327.24 264.0,327.07 266.0,326.40 268.0,325.53 270.0,324.72 272.0,324.27 274.0,324.42 276.0,325.06 278.0,325.91 280.0,326.71 282.0,327.23 284.0,327.61 286.0,327.95 288.0,328.31 290.0,328.75 292.0,329.45 294.0,330.36 296.0,331.21 298.0,331.71 300.0,331.23 302.0,329.21 304.0,327.32 306.0,327.00 308.0,327.00 310.0,327.00 312.0,327.00 314.0,327.21 316.0,327.99 318.0,329.07 320.0,330.16 322.0,330.99 324.0,331.25 326.0,331.25 328.0,331.25 330.0,331.25 332.0,331.25 334.0,331.24 336.0,330.69 338.0,329.50 340.0,327.95 342.0,326.33 344.0,324.91 346.0,323.97 348.0,323.78 350.0,324.17 352.0,324.85 354.0,325.58 356.0,326.12 358.0,326.17 360.0,325.19 362.0,324.29 364.0,324.61 366.0,325.46 368.0,325.72 370.0,325.32 372.0,324.55 374.0,323.60 376.0,322.63 378.0,321.81 380.0,321.32 382.0,321.63 384.0,324.03 386.0,327.17 388.0,329.31 390.0,329.23 392.0,328.11 394.0,326.85 396.0,326.25 398.0,326.31 400.0,326.48 402.0,326.74 404.0,327.12 406.0,328.75 408.0,330.92 410.0,332.00 412.0,331.16 414.0,329.34 416.0,327.60 418.0,326.91 420.0,326.65 422.0,326.43 424.0,326.23 426.0,326.07 428.0,325.94 430.0,325.85 432.0,325.79 434.0,325.75 436.0,325.78 438.0,325.98 440.0,326.33 442.0,326.76 444.0,327.21 446.0,327.61 448.0,327.89 450.0,328.00 452.0,326.94 454.0,325.31 456.0,325.06 458.0,325.45 460.0,326.10 462.0,326.88 464.0,328.12 466.0,329.92 468.0,331.16 470.0,331.01 472.0,330.51 474.0,330.99 476.0,332.23 478.0,333.18 480.0,332.76 482.0,331.25 484.0,330.46 486.0,330.32 488.0,330.24 490.0,330.17 492.0,330.03 494.0,329.46 496.0,328.30 498.0,327.21 500.0,326.60 502.0,326.09 504.0,325.78 506.0,325.77 508.0,325.90 510.0,326.10 512.0,326.34 514.0,326.58 516.0,326.80 518.0,326.95 520.0,327.00 522.0,326.58 524.0,325.82 526.0,325.16 528.0,325.03 530.0,325.37 532.0,325.86 534.0,326.21 536.0,326.22 538.0,326.08 540.0,325.85 542.0,325.58 544.0,325.32 546.0,325.11 548.0,325.00 550.0,325.36 552.0,326.65 554.0,328.27 556.0,329.60 558.0,330.08 560.0,330.27 562.0,330.41 564.0,330.49 566.0,330.44 568.0,330.02 570.0,329.43 572.0,328.92 574.0,328.76 576.0,329.10 578.0,329.80 580.0,330.65 582.0,331.43 584.0,331.93 586.0,331.77 588.0,330.50 590.0,329.50 592.0,329.18 594.0,328.90 596.0,328.66 598.0,328.48 600.0,328.35 602.0,328.27 604.0,328.25 606.0,328.49 608.0,328.94 610.0,329.46 612.0,329.87 614.0,329.99 616.0,329.39 618.0,328.48 620.0,328.00 622.0,328.10 624.0,328.33 626.0,328.58 628.0,328.74 630.0,328.57 632.0,327.72 634.0,326.48 636.0,325.19 638.0,324.16 640.0,323.75 642.0,323.94 644.0,324.42 646.0,325.07 648.0,325.78 650.0,326.42 652.0,326.86 654.0,326.99 656.0,326.45 658.0,325.82 660.0,326.17 662.0,327.58 664.0,328.25 666.0,328.17 668.0,328.01 670.0,327.81 672.0,327.63 674.0,327.52 676.0,327.59 678.0,328.20 680.0,329.12 682.0,330.05 684.0,330.66 686.0,330.68 688.0,330.20 690.0,328.64 692.0,324.96 694.0,321.78 696.0,321.27 698.0,321.41 700.0,321.62 702.0,321.84 704.0,321.98 706.0,321.88 708.0,321.15 710.0,320.29 712.0,319.80 714.0,319.41 716.0,319.07 718.0,318.84 720.0,318.75 722.0,319.63 724.0,321.35 726.0,322.50 728.0,322.86 730.0,323.12 732.0,323.25 734.0,323.04 736.0,322.48 738.0,322.03 740.0,322.19 742.0,322.97 744.0,324.02 746.0,325.00 748.0,326.01 750.0,327.13 752.0,327.99 754.0,328.19 756.0,326.72 758.0,325.13 760.0,325.42 762.0,326.86 764.0,328.10 766.0,328.15 768.0,327.65 770.0,326.93 772.0,326.23 774.0,325.80 776.0,325.83 778.0,326.27 780.0,326.96 782.0,327.77 784.0,328.55 786.0,329.17 788.0,329.49 790.0,329.24 792.0,328.42 794.0,327.65 796.0,327.40 798.0,327.31 800.0,327.24 802.0,327.14 804.0,326.76 806.0,323.42 808.0,320.19 810.0,320.29 812.0,321.17 814.0,321.91 816.0,321.86 818.0,321.22 820.0,320.45 822.0,320.01 824.0,320.35 826.0,321.35 828.0,322.43 830.0,323.03 832.0,323.26 834.0,323.46 836.0,323.62 838.0,323.72 840.0,323.75 842.0,323.58 844.0,323.15 846.0,322.61 848.0,322.12 850.0,321.80 852.0,321.78 854.0,321.98 856.0,322.34 858.0,322.81 860.0,323.74 862.0,325.48 864.0,326.22 866.0,325.10 868.0,324.51 870.0,324.75 872.0,324.99 874.0,324.88 876.0,324.44 878.0,323.85 880.0,323.31 882.0,323.01 884.0,323.01 886.0,323.06 888.0,323.14 890.0,323.25 892.0,323.89 894.0,324.94 896.0,325.50 898.0,324.88 900.0,324.25 902.0,324.67 904.0,325.00 906.0,324.76 908.0,324.31 910.0,323.79 912.0,323.38 914.0,323.27 916.0,324.16 918.0,325.53 920.0,326.25 922.0,325.94 924.0,325.27 926.0,324.66 928.0,324.52 930.0,324.79 932.0,325.27 934.0,325.78 936.0,326.16 938.0,326.24 940.0,326.08 942.0,325.79 944.0,325.46 946.0,325.17 948.0,325.01 950.0,325.35 952.0,326.65 954.0,328.08 956.0,328.75 958.0,328.32 960.0,327.40 962.0,326.54 964.0,326.25 966.0,326.31 968.0,326.45 970.0,326.66 972.0,326.94 974.0,327.81 976.0,328.75 978.0,328.12 980.0,327.50 982.0,328.02 984.0,329.22 986.0,330.59 988.0,331.59 990.0,331.98 992.0,332.21 994.0,332.38 996.0,332.54 998.0,332.73 1000.0,333.00 1002.0,333.53 1004.0,334.31 1006.0,335.04 1008.0,335.47 1010.0,335.09 1012.0,333.85 1014.0,333.22 1016.0,333.09 1018.0,333.01 1019.3,333.00" fill="none" stroke="#1a3cff" stroke-width="1" stroke-linejoin="round" />
<rect x="-1" y="366.5" width="2.8" height="3.82" fill="#ff0000"/>
<rect x="3" y="366.5" width="2.8" height="2.94" fill="#ff0000"/>
<rect x="7" y="366.5" width="2.8" height="1.40" fill="#ff0000"/>
<rect x="10" y="365.80" width="2.8" height="0.70" fill="#00f000"/>
<rect x="14" y="365.02" width="2.8" height="1.48" fill="#00f000"/>
<rect x="18" y="364.36" width="2.8" height="2.14" fill="#00f000"/>
<rect x="21" y="364.17" width="2.8" height="2.33" fill="#00f000"/>
<rect x="25" y="363.94" width="2.8" height="2.56" fill="#00f000"/>
<rect x="29" y="363.68" width="2.8" height="2.82" fill="#00f000"/>
<rect x="32" y="363.45" width="2.8" height="3.05" fill="#00f000"/>
<rect x="36" y="363.15" width="2.8" height="3.35" fill="#00f000"/>
<rect x="40" y="363.10" width="2.8" height="3.40" fill="#00f000"/>
<rect x="43" y="363.04" width="2.8" height="3.46" fill="#00f000"/>
<rect x="47" y="362.89" width="2.8" height="3.61" fill="#00f000"/>
<rect x="51" y="362.90" width="2.8" height="3.60" fill="#00f000"/>
<rect x="54" y="362.90" width="2.8" height="3.60" fill="#00f000"/>
<rect x="58" y="362.96" width="2.8" height="3.54" fill="#00f000"/>
<rect x="61" y="363.06" width="2.8" height="3.44" fill="#00f000"/>
<rect x="65" y="363.19" width="2.8" height="3.31" fill="#00f000"/>
<rect x="69" y="363.67" width="2.8" height="2.83" fill="#00f000"/>
<rect x="72" y="364.12" width="2.8" height="2.38" fill="#00f000"/>
<rect x="76" y="364.64" width="2.8" height="1.86" fill="#00f000"/>
<rect x="80" y="364.69" width="2.8" height="1.81" fill="#00f000"/>
<rect x="83" y="364.73" width="2.8" height="1.77" fill="#00f000"/>
<rect x="87" y="364.76" width="2.8" height="1.74" fill="#00f000"/>
<rect x="91" y="365.38" width="2.8" height="1.12" fill="#00f000"/>
<rect x="94" y="365.80" width="2.8" height="0.70" fill="#00f000"/>
<rect x="98" y="366.5" width="2.8" height="0.70" fill="#ff0000"/>
<rect x="102" y="366.5" width="2.8" height="0.70" fill="#ff0000"/>
<rect x="105" y="366.5" width="2.8" height="0.70" fill="#ff0000"/>
<rect x="109" y="366.5" width="2.8" height="0.70" fill="#ff0000"/>
<rect x="113" y="366.5" width="2.8" height="1.08" fill="#ff0000"/>
<rect x="116" y="366.5" width="2.8" height="1.35" fill="#ff0000"/>
<rect x="120" y="366.5" width="2.8" height="1.52" fill="#ff0000"/>
<rect x="124" y="366.5" width="2.8" height="1.60" fill="#ff0000"/>
<rect x="127" y="366.5" width="2.8" height="1.66" fill="#ff0000"/>
<rect x="131" y="366.5" width="2.8" height="2.02" fill="#ff0000"/>
<rect x="135" y="366.5" width="2.8" height="2.51" fill="#ff0000"/>
<rect x="138" y="366.5" width="2.8" height="2.65" fill="#ff0000"/>
<rect x="142" y="366.5" width="2.8" height="3.08" fill="#ff0000"/>
<rect x="145" y="366.5" width="2.8" height="3.38" fill="#ff0000"/>
<rect x="149" y="366.5" width="2.8" height="3.44" fill="#ff0000"/>
<rect x="153" y="366.5" width="2.8" height="3.30" fill="#ff0000"/>
<rect x="156" y="366.5" width="2.8" height="3.13" fill="#ff0000"/>
<rect x="160" y="366.5" width="2.8" height="2.75" fill="#ff0000"/>
<rect x="164" y="366.5" width="2.8" height="2.47" fill="#ff0000"/>
<rect x="167" y="366.5" width="2.8" height="2.12" fill="#ff0000"/>
<rect x="171" y="366.5" width="2.8" height="1.57" fill="#ff0000"/>
<rect x="175" y="366.5" width="2.8" height="1.13" fill="#ff0000"/>
<rect x="178" y="366.5" width="2.8" height="0.70" fill="#ff0000"/>
<rect x="182" y="365.80" width="2.8" height="0.70" fill="#00f000"/>
<rect x="186" y="365.80" width="2.8" height="0.70" fill="#00f000"/>
<rect x="189" y="365.80" width="2.8" height="0.70" fill="#00f000"/>
<rect x="193" y="365.80" width="2.8" height="0.70" fill="#00f000"/>
<rect x="197" y="365.80" width="2.8" height="0.70" fill="#00f000"/>
<rect x="200" y="365.80" width="2.8" height="0.70" fill="#00f000"/>
<rect x="204" y="365.80" width="2.8" height="0.70" fill="#00f000"/>
<rect x="208" y="365.80" width="2.8" height="0.70" fill="#00f000"/>
<rect x="211" y="365.76" width="2.8" height="0.74" fill="#00f000"/>
<rect x="215" y="365.40" width="2.8" height="1.10" fill="#00f000"/>
<rect x="219" y="364.98" width="2.8" height="1.52" fill="#00f000"/>
<rect x="222" y="364.86" width="2.8" height="1.64" fill="#00f000"/>
<rect x="226" y="365.29" width="2.8" height="1.21" fill="#00f000"/>
<rect x="229" y="365.70" width="2.8" height="0.80" fill="#00f000"/>
<rect x="233" y="365.60" width="2.8" height="0.90" fill="#00f000"/>
<rect x="237" y="365.80" width="2.8" height="0.70" fill="#00f000"/>
<rect x="240" y="366.5" width="2.8" height="0.75" fill="#ff0000"/>
<rect x="244" y="366.5" width="2.8" height="1.25" fill="#ff0000"/>
<rect x="248" y="366.5" width="2.8" height="1.16" fill="#ff0000"/>
<rect x="251" y="366.5" width="2.8" height="1.09" fill="#ff0000"/>
<rect x="255" y="366.5" width="2.8" height="0.99" fill="#ff0000"/>
<rect x="259" y="366.5" width="2.8" height="0.91" fill="#ff0000"/>
<rect x="262" y="366.5" width="2.8" height="0.88" fill="#ff0000"/>
<rect x="266" y="366.5" width="2.8" height="0.83" fill="#ff0000"/>
<rect x="270" y="366.5" width="2.8" height="0.79" fill="#ff0000"/>
<rect x="273" y="366.5" width="2.8" height="0.75" fill="#ff0000"/>
<rect x="277" y="366.5" width="2.8" height="0.81" fill="#ff0000"/>
<rect x="281" y="366.5" width="2.8" height="0.97" fill="#ff0000"/>
<rect x="284" y="366.5" width="2.8" height="1.08" fill="#ff0000"/>
<rect x="288" y="366.5" width="2.8" height="1.22" fill="#ff0000"/>
<rect x="292" y="366.5" width="2.8" height="1.56" fill="#ff0000"/>
<rect x="295" y="366.5" width="2.8" height="1.82" fill="#ff0000"/>
<rect x="299" y="366.5" width="2.8" height="2.14" fill="#ff0000"/>
<rect x="303" y="366.5" width="2.8" height="1.95" fill="#ff0000"/>
<rect x="306" y="366.5" width="2.8" height="1.78" fill="#ff0000"/>
<rect x="310" y="366.5" width="2.8" height="1.54" fill="#ff0000"/>
<rect x="313" y="366.5" width="2.8" height="1.34" fill="#ff0000"/>
<rect x="317" y="366.5" width="2.8" height="1.49" fill="#ff0000"/>
<rect x="321" y="366.5" width="2.8" height="1.67" fill="#ff0000"/>
<rect x="324" y="366.5" width="2.8" height="1.75" fill="#ff0000"/>
<rect x="328" y="366.5" width="2.8" height="1.57" fill="#ff0000"/>
<rect x="332" y="366.5" width="2.8" height="1.37" fill="#ff0000"/>
<rect x="335" y="366.5" width="2.8" height="1.19" fill="#ff0000"/>
<rect x="339" y="366.5" width="2.8" height="0.78" fill="#ff0000"/>
<rect x="343" y="365.80" width="2.8" height="0.70" fill="#00f000"/>
<rect x="346" y="365.80" width="2.8" height="0.70" fill="#00f000"/>
<rect x="350" y="365.80" width="2.8" height="0.70" fill="#00f000"/>
<rect x="354" y="365.80" width="2.8" height="0.70" fill="#00f000"/>
<rect x="357" y="365.80" width="2.8" height="0.70" fill="#00f000"/>
<rect x="361" y="366.5" width="2.8" height="0.70" fill="#ff0000"/>
<rect x="365" y="366.5" width="2.8" height="0.70" fill="#ff0000"/>
<rect x="368" y="366.5" width="2.8" height="0.70" fill="#ff0000"/>
<rect x="372" y="365.56" width="2.8" height="0.94" fill="#00f000"/>
<rect x="376" y="364.68" width="2.8" height="1.82" fill="#00f000"/>
<rect x="379" y="364.31" width="2.8" height="2.19" fill="#00f000"/>
<rect x="383" y="364.77" width="2.8" height="1.73" fill="#00f000"/>
<rect x="387" y="365.80" width="2.8" height="0.70" fill="#00f000"/>
<rect x="390" y="366.5" width="2.8" height="1.20" fill="#ff0000"/>
<rect x="394" y="366.5" width="2.8" height="1.37" fill="#ff0000"/>
<rect x="398" y="366.5" width="2.8" height="0.70" fill="#ff0000"/>
<rect x="401" y="366.5" width="2.8" height="0.86" fill="#ff0000"/>
<rect x="405" y="366.5" width="2.8" height="1.45" fill="#ff0000"/>
<rect x="408" y="366.5" width="2.8" height="1.98" fill="#ff0000"/>
<rect x="412" y="366.5" width="2.8" height="1.93" fill="#ff0000"/>
<rect x="416" y="366.5" width="2.8" height="1.65" fill="#ff0000"/>
<rect x="419" y="366.5" width="2.8" height="1.43" fill="#ff0000"/>
<rect x="423" y="366.5" width="2.8" height="0.87" fill="#ff0000"/>
<rect x="427" y="366.5" width="2.8" height="0.70" fill="#ff0000"/>
<rect x="430" y="365.80" width="2.8" height="0.70" fill="#00f000"/>
<rect x="434" y="365.80" width="2.8" height="0.70" fill="#00f000"/>
<rect x="438" y="366.5" width="2.8" height="0.70" fill="#ff0000"/>
<rect x="441" y="366.5" width="2.8" height="0.70" fill="#ff0000"/>
<rect x="445" y="366.5" width="2.8" height="0.83" fill="#ff0000"/>
<rect x="449" y="366.5" width="2.8" height="0.72" fill="#ff0000"/>
<rect x="452" y="366.5" width="2.8" height="0.70" fill="#ff0000"/>
<rect x="456" y="366.5" width="2.8" height="0.70" fill="#ff0000"/>
<rect x="460" y="365.80" width="2.8" height="0.70" fill="#00f000"/>
<rect x="463" y="366.5" width="2.8" height="1.34" fill="#ff0000"/>
<rect x="467" y="366.5" width="2.8" height="2.10" fill="#ff0000"/>
<rect x="471" y="366.5" width="2.8" height="2.92" fill="#ff0000"/>
<rect x="474" y="366.5" width="2.8" height="3.36" fill="#ff0000"/>
<rect x="478" y="366.5" width="2.8" height="3.70" fill="#ff0000"/>
<rect x="482" y="366.5" width="2.8" height="3.70" fill="#ff0000"/>
<rect x="485" y="366.5" width="2.8" height="3.79" fill="#ff0000"/>
<rect x="489" y="366.5" width="2.8" height="3.29" fill="#ff0000"/>
<rect x="492" y="366.5" width="2.8" height="3.02" fill="#ff0000"/>
<rect x="496" y="366.5" width="2.8" height="2.39" fill="#ff0000"/>
<rect x="500" y="366.5" width="2.8" height="1.51" fill="#ff0000"/>
<rect x="503" y="366.5" width="2.8" height="0.87" fill="#ff0000"/>
<rect x="507" y="365.80" width="2.8" height="0.70" fill="#00f000"/>
<rect x="511" y="365.36" width="2.8" height="1.14" fill="#00f000"/>
<rect x="514" y="365.01" width="2.8" height="1.49" fill="#00f000"/>
<rect x="518" y="364.80" width="2.8" height="1.70" fill="#00f000"/>
<rect x="522" y="364.60" width="2.8" height="1.90" fill="#00f000"/>
<rect x="525" y="364.49" width="2.8" height="2.01" fill="#00f000"/>
<rect x="529" y="364.43" width="2.8" height="2.07" fill="#00f000"/>
<rect x="533" y="364.40" width="2.8" height="2.10" fill="#00f000"/>
<rect x="536" y="364.39" width="2.8" height="2.11" fill="#00f000"/>
<rect x="540" y="364.46" width="2.8" height="2.04" fill="#00f000"/>
<rect x="544" y="364.60" width="2.8" height="1.90" fill="#00f000"/>
<rect x="547" y="364.71" width="2.8" height="1.79" fill="#00f000"/>
<rect x="551" y="365.51" width="2.8" height="0.99" fill="#00f000"/>
<rect x="555" y="366.5" width="2.8" height="0.70" fill="#ff0000"/>
<rect x="558" y="366.5" width="2.8" height="0.99" fill="#ff0000"/>
<rect x="562" y="366.5" width="2.8" height="1.59" fill="#ff0000"/>
<rect x="566" y="366.5" width="2.8" height="1.90" fill="#ff0000"/>
<rect x="569" y="366.5" width="2.8" height="1.75" fill="#ff0000"/>
<rect x="573" y="366.5" width="2.8" height="1.58" fill="#ff0000"/>
<rect x="576" y="366.5" width="2.8" height="1.65" fill="#ff0000"/>
<rect x="580" y="366.5" width="2.8" height="1.70" fill="#ff0000"/>
<rect x="584" y="366.5" width="2.8" height="1.48" fill="#ff0000"/>
<rect x="587" y="366.5" width="2.8" height="1.31" fill="#ff0000"/>
<rect x="591" y="366.5" width="2.8" height="1.13" fill="#ff0000"/>
<rect x="595" y="366.5" width="2.8" height="0.93" fill="#ff0000"/>
<rect x="598" y="366.5" width="2.8" height="0.75" fill="#ff0000"/>
<rect x="602" y="366.5" width="2.8" height="0.73" fill="#ff0000"/>
<rect x="606" y="366.5" width="2.8" height="0.74" fill="#ff0000"/>
<rect x="609" y="366.5" width="2.8" height="0.74" fill="#ff0000"/>
<rect x="613" y="366.5" width="2.8" height="0.72" fill="#ff0000"/>
<rect x="617" y="366.5" width="2.8" height="0.70" fill="#ff0000"/>
<rect x="620" y="366.5" width="2.8" height="0.70" fill="#ff0000"/>
<rect x="624" y="365.80" width="2.8" height="0.70" fill="#00f000"/>
<rect x="628" y="365.80" width="2.8" height="0.70" fill="#00f000"/>
<rect x="631" y="365.60" width="2.8" height="0.90" fill="#00f000"/>
<rect x="635" y="364.82" width="2.8" height="1.68" fill="#00f000"/>
<rect x="639" y="364.38" width="2.8" height="2.12" fill="#00f000"/>
<rect x="642" y="364.08" width="2.8" height="2.42" fill="#00f000"/>
<rect x="646" y="364.38" width="2.8" height="2.12" fill="#00f000"/>
<rect x="650" y="364.55" width="2.8" height="1.95" fill="#00f000"/>
<rect x="653" y="364.63" width="2.8" height="1.87" fill="#00f000"/>
<rect x="657" y="365.01" width="2.8" height="1.49" fill="#00f000"/>
<rect x="660" y="365.46" width="2.8" height="1.04" fill="#00f000"/>
<rect x="664" y="365.80" width="2.8" height="0.70" fill="#00f000"/>
<rect x="668" y="365.80" width="2.8" height="0.70" fill="#00f000"/>
<rect x="671" y="365.80" width="2.8" height="0.70" fill="#00f000"/>
<rect x="675" y="366.5" width="2.8" height="0.70" fill="#ff0000"/>
<rect x="679" y="366.5" width="2.8" height="0.70" fill="#ff0000"/>
<rect x="682" y="366.5" width="2.8" height="1.01" fill="#ff0000"/>
<rect x="686" y="366.5" width="2.8" height="1.37" fill="#ff0000"/>
<rect x="690" y="366.5" width="2.8" height="0.70" fill="#ff0000"/>
<rect x="693" y="365.37" width="2.8" height="1.13" fill="#00f000"/>
<rect x="697" y="364.55" width="2.8" height="1.95" fill="#00f000"/>
<rect x="701" y="363.96" width="2.8" height="2.54" fill="#00f000"/>
<rect x="704" y="363.73" width="2.8" height="2.77" fill="#00f000"/>
<rect x="708" y="363.54" width="2.8" height="2.96" fill="#00f000"/>
<rect x="712" y="363.48" width="2.8" height="3.02" fill="#00f000"/>
<rect x="715" y="363.42" width="2.8" height="3.08" fill="#00f000"/>
<rect x="719" y="363.35" width="2.8" height="3.15" fill="#00f000"/>
<rect x="723" y="363.75" width="2.8" height="2.75" fill="#00f000"/>
<rect x="726" y="364.04" width="2.8" height="2.46" fill="#00f000"/>
<rect x="730" y="364.34" width="2.8" height="2.16" fill="#00f000"/>
<rect x="734" y="364.92" width="2.8" height="1.58" fill="#00f000"/>
<rect x="737" y="365.35" width="2.8" height="1.15" fill="#00f000"/>
<rect x="741" y="365.54" width="2.8" height="0.96" fill="#00f000"/>
<rect x="744" y="365.80" width="2.8" height="0.70" fill="#00f000"/>
<rect x="748" y="366.5" width="2.8" height="1.14" fill="#ff0000"/>
<rect x="752" y="366.5" width="2.8" height="1.61" fill="#ff0000"/>
<rect x="755" y="366.5" width="2.8" height="1.91" fill="#ff0000"/>
<rect x="759" y="366.5" width="2.8" height="2.28" fill="#ff0000"/>
<rect x="763" y="366.5" width="2.8" height="2.65" fill="#ff0000"/>
<rect x="766" y="366.5" width="2.8" height="2.64" fill="#ff0000"/>
<rect x="770" y="366.5" width="2.8" height="2.48" fill="#ff0000"/>
<rect x="774" y="366.5" width="2.8" height="2.32" fill="#ff0000"/>
<rect x="777" y="366.5" width="2.8" height="2.21" fill="#ff0000"/>
<rect x="781" y="366.5" width="2.8" height="2.10" fill="#ff0000"/>
<rect x="785" y="366.5" width="2.8" height="2.04" fill="#ff0000"/>
<rect x="788" y="366.5" width="2.8" height="2.03" fill="#ff0000"/>
<rect x="792" y="366.5" width="2.8" height="1.99" fill="#ff0000"/>
<rect x="796" y="366.5" width="2.8" height="1.87" fill="#ff0000"/>
<rect x="799" y="366.5" width="2.8" height="1.71" fill="#ff0000"/>
<rect x="803" y="366.5" width="2.8" height="1.06" fill="#ff0000"/>
<rect x="807" y="364.88" width="2.8" height="1.62" fill="#00f000"/>
<rect x="810" y="364.07" width="2.8" height="2.43" fill="#00f000"/>
<rect x="814" y="363.85" width="2.8" height="2.65" fill="#00f000"/>
<rect x="818" y="363.66" width="2.8" height="2.84" fill="#00f000"/>
<rect x="821" y="363.51" width="2.8" height="2.99" fill="#00f000"/>
<rect x="825" y="363.72" width="2.8" height="2.78" fill="#00f000"/>
<rect x="828" y="364.04" width="2.8" height="2.46" fill="#00f000"/>
<rect x="832" y="364.33" width="2.8" height="2.17" fill="#00f000"/>
<rect x="836" y="364.84" width="2.8" height="1.66" fill="#00f000"/>
<rect x="839" y="365.40" width="2.8" height="1.10" fill="#00f000"/>
<rect x="843" y="365.80" width="2.8" height="0.70" fill="#00f000"/>
<rect x="847" y="365.80" width="2.8" height="0.70" fill="#00f000"/>
<rect x="850" y="365.80" width="2.8" height="0.70" fill="#00f000"/>
<rect x="854" y="365.48" width="2.8" height="1.02" fill="#00f000"/>
<rect x="858" y="365.80" width="2.8" height="0.70" fill="#00f000"/>
<rect x="861" y="366.5" width="2.8" height="0.71" fill="#ff0000"/>
<rect x="865" y="366.5" width="2.8" height="1.34" fill="#ff0000"/>
<rect x="869" y="366.5" width="2.8" height="1.41" fill="#ff0000"/>
<rect x="872" y="366.5" width="2.8" height="1.48" fill="#ff0000"/>
<rect x="876" y="366.5" width="2.8" height="1.64" fill="#ff0000"/>
<rect x="880" y="366.5" width="2.8" height="1.39" fill="#ff0000"/>
<rect x="883" y="366.5" width="2.8" height="1.09" fill="#ff0000"/>
<rect x="887" y="366.5" width="2.8" height="0.70" fill="#ff0000"/>
<rect x="891" y="366.5" width="2.8" height="0.70" fill="#ff0000"/>
<rect x="894" y="366.5" width="2.8" height="0.70" fill="#ff0000"/>
<rect x="898" y="366.5" width="2.8" height="0.87" fill="#ff0000"/>
<rect x="902" y="366.5" width="2.8" height="1.09" fill="#ff0000"/>
<rect x="905" y="366.5" width="2.8" height="1.19" fill="#ff0000"/>
<rect x="909" y="366.5" width="2.8" height="1.25" fill="#ff0000"/>
<rect x="913" y="366.5" width="2.8" height="1.29" fill="#ff0000"/>
<rect x="916" y="366.5" width="2.8" height="1.31" fill="#ff0000"/>
<rect x="920" y="366.5" width="2.8" height="1.34" fill="#ff0000"/>
<rect x="923" y="366.5" width="2.8" height="1.36" fill="#ff0000"/>
<rect x="927" y="366.5" width="2.8" height="1.37" fill="#ff0000"/>
<rect x="931" y="366.5" width="2.8" height="1.37" fill="#ff0000"/>
<rect x="934" y="366.5" width="2.8" height="1.37" fill="#ff0000"/>
<rect x="938" y="366.5" width="2.8" height="1.36" fill="#ff0000"/>
<rect x="942" y="366.5" width="2.8" height="1.33" fill="#ff0000"/>
<rect x="945" y="366.5" width="2.8" height="1.30" fill="#ff0000"/>
<rect x="949" y="366.5" width="2.8" height="1.27" fill="#ff0000"/>
<rect x="953" y="366.5" width="2.8" height="1.23" fill="#ff0000"/>
<rect x="956" y="366.5" width="2.8" height="1.18" fill="#ff0000"/>
<rect x="960" y="366.5" width="2.8" height="1.06" fill="#ff0000"/>
<rect x="964" y="366.5" width="2.8" height="0.98" fill="#ff0000"/>
<rect x="967" y="366.5" width="2.8" height="0.92" fill="#ff0000"/>
<rect x="971" y="366.5" width="2.8" height="0.84" fill="#ff0000"/>
<rect x="975" y="366.5" width="2.8" height="0.96" fill="#ff0000"/>
<rect x="978" y="366.5" width="2.8" height="1.05" fill="#ff0000"/>
<rect x="982" y="366.5" width="2.8" height="1.12" fill="#ff0000"/>
<rect x="986" y="366.5" width="2.8" height="1.52" fill="#ff0000"/>
<rect x="989" y="366.5" width="2.8" height="1.85" fill="#ff0000"/>
<rect x="993" y="366.5" width="2.8" height="2.09" fill="#ff0000"/>
<rect x="997" y="366.5" width="2.8" height="2.26" fill="#ff0000"/>
<rect x="1000" y="366.5" width="2.8" height="2.31" fill="#ff0000"/>
<rect x="1004" y="366.5" width="2.8" height="2.28" fill="#ff0000"/>
<rect x="1007" y="366.5" width="2.8" height="2.26" fill="#ff0000"/>
<rect x="1011" y="366.5" width="2.8" height="2.23" fill="#ff0000"/>
<rect x="1015" y="366.5" width="2.8" height="2.19" fill="#ff0000"/>
<rect x="1018" y="366.5" width="2.8" height="2.17" fill="#ff0000"/>
<polyline points="1.4,370.40 3.4,370.37 5.4,370.29 7.4,370.17 9.4,370.02 11.4,369.76 13.4,369.30 15.4,368.73 17.4,368.12 19.4,367.55 21.4,366.99 23.4,366.41 25.4,365.82 27.4,365.25 29.4,364.69 31.4,364.15 33.4,363.61 35.4,363.07 37.4,362.55 39.4,362.05 41.4,361.57 43.4,361.11 45.4,360.67 47.4,360.24 49.4,359.82 51.4,359.41 53.4,359.03 55.4,358.67 57.4,358.35 59.4,358.04 61.4,357.75 63.4,357.49 65.4,357.26 67.4,357.07 69.4,356.90 71.4,356.76 73.4,356.64 75.4,356.53 77.4,356.44 79.4,356.35 81.4,356.27 83.4,356.20 85.4,356.14 87.4,356.09 89.4,356.04 91.4,355.98 93.4,355.93 95.4,355.88 97.4,355.83 99.4,355.79 101.4,355.76 103.4,355.73 105.4,355.71 107.4,355.70 109.4,355.73 111.4,355.84 113.4,356.02 115.4,356.24 117.4,356.49 119.4,356.74 121.4,356.96 123.4,357.15 125.4,357.33 127.4,357.51 129.4,357.69 131.4,357.89 133.4,358.10 135.4,358.35 137.4,358.64 139.4,359.00 141.4,359.41 143.4,359.84 145.4,360.27 147.4,360.68 149.4,361.07 151.4,361.46 153.4,361.85 155.4,362.23 157.4,362.59 159.4,362.91 161.4,363.21 163.4,363.50 165.4,363.77 167.4,364.02 169.4,364.21 171.4,364.35 173.4,364.46 175.4,364.56 177.4,364.64 179.4,364.71 181.4,364.77 183.4,364.81 185.4,364.85 187.4,364.88 189.4,364.91 191.4,364.94 193.4,364.96 195.4,364.98 197.4,364.99 199.4,365.00 201.4,364.99 203.4,364.92 205.4,364.81 207.4,364.68 209.4,364.53 211.4,364.37 213.4,364.22 215.4,364.10 217.4,364.00 219.4,363.92 221.4,363.84 223.4,363.77 225.4,363.70 227.4,363.65 229.4,363.61 231.4,363.60 233.4,363.65 235.4,363.79 237.4,363.97 239.4,364.19 241.4,364.42 243.4,364.64 245.4,364.81 247.4,364.96 249.4,365.13 251.4,365.29 253.4,365.44 255.4,365.57 257.4,365.66 259.4,365.70 261.4,365.72 263.4,365.73 265.4,365.74 267.4,365.75 269.4,365.75 271.4,365.76 273.4,365.77 275.4,365.79 277.4,365.82 279.4,365.90 281.4,366.05 283.4,366.23 285.4,366.44 287.4,366.64 289.4,366.82 291.4,366.96 293.4,367.09 295.4,367.22 297.4,367.35 299.4,367.47 301.4,367.58 303.4,367.70 305.4,367.80 307.4,367.91 309.4,368.00 311.4,368.09 313.4,368.19 315.4,368.28 317.4,368.37 319.4,368.47 321.4,368.58 323.4,368.70 325.4,368.86 327.4,369.03 329.4,369.20 331.4,369.34 333.4,369.45 335.4,369.50 337.4,369.48 339.4,369.41 341.4,369.29 343.4,369.15 345.4,369.00 347.4,368.84 349.4,368.69 351.4,368.50 353.4,368.29 355.4,368.07 357.4,367.85 359.4,367.64 361.4,367.44 363.4,367.28 365.4,367.12 367.4,366.97 369.4,366.83 371.4,366.69 373.4,366.54 375.4,366.38 377.4,366.19 379.4,365.99 381.4,365.82 383.4,365.72 385.4,365.73 387.4,365.95 389.4,366.26 391.4,366.49 393.4,366.60 395.4,366.68 397.4,366.76 399.4,366.86 401.4,367.06 403.4,367.42 405.4,367.88 407.4,368.33 409.4,368.68 411.4,368.89 413.4,369.06 415.4,369.21 417.4,369.34 419.4,369.44 421.4,369.49 423.4,369.49 425.4,369.44 427.4,369.34 429.4,369.22 431.4,369.09 433.4,368.96 435.4,368.86 437.4,368.81 439.4,368.80 441.4,368.80 443.4,368.80 445.4,368.80 447.4,368.80 449.4,368.80 451.4,368.80 453.4,368.79 455.4,368.71 457.4,368.60 459.4,368.48 461.4,368.38 463.4,368.31 465.4,368.33 467.4,368.56 469.4,368.94 471.4,369.37 473.4,369.78 475.4,370.22 477.4,370.72 479.4,371.22 481.4,371.67 483.4,372.08 485.4,372.53 487.4,372.95 489.4,373.29 491.4,373.48 493.4,373.49 495.4,373.43 497.4,373.33 499.4,373.20 501.4,373.07 503.4,372.90 505.4,372.69 507.4,372.45 509.4,372.19 511.4,371.94 513.4,371.71 515.4,371.49 517.4,371.27 519.4,371.06 521.4,370.84 523.4,370.62 525.4,370.39 527.4,370.14 529.4,369.86 531.4,369.58 533.4,369.30 535.4,369.03 537.4,368.79 539.4,368.59 541.4,368.40 543.4,368.21 545.4,368.03 547.4,367.89 549.4,367.79 551.4,367.75 553.4,367.81 555.4,367.98 557.4,368.22 559.4,368.49 561.4,368.74 563.4,368.98 565.4,369.26 567.4,369.55 569.4,369.84 571.4,370.11 573.4,370.34 575.4,370.53 577.4,370.69 579.4,370.84 581.4,370.98 583.4,371.11 585.4,371.24 587.4,371.36 589.4,371.50 591.4,371.65 593.4,371.80 595.4,371.94 597.4,372.04 599.4,372.10 601.4,372.09 603.4,372.06 605.4,371.99 607.4,371.91 609.4,371.82 611.4,371.71 613.4,371.61 615.4,371.50 617.4,371.40 619.4,371.31 621.4,371.21 623.4,371.11 625.4,371.00 627.4,370.89 629.4,370.77 631.4,370.65 633.4,370.51 635.4,370.35 637.4,370.15 639.4,369.91 641.4,369.65 643.4,369.39 645.4,369.14 647.4,368.92 649.4,368.74 651.4,368.57 653.4,368.39 655.4,368.23 657.4,368.09 659.4,367.98 661.4,367.91 663.4,367.90 665.4,367.91 667.4,367.92 669.4,367.95 671.4,367.98 673.4,368.01 675.4,368.05 677.4,368.08 679.4,368.13 681.4,368.20 683.4,368.28 685.4,368.37 687.4,368.45 689.4,368.49 691.4,368.49 693.4,368.37 695.4,368.17 697.4,367.91 699.4,367.63 701.4,367.34 703.4,367.00 705.4,366.60 707.4,366.16 709.4,365.71 711.4,365.30 713.4,364.89 715.4,364.47 717.4,364.04 719.4,363.63 721.4,363.26 723.4,362.94 725.4,362.69 727.4,362.48 729.4,362.27 731.4,362.09 733.4,361.94 735.4,361.84 737.4,361.80 739.4,361.82 741.4,361.87 743.4,361.95 745.4,362.05 747.4,362.17 749.4,362.30 751.4,362.50 753.4,362.74 755.4,363.01 757.4,363.28 759.4,363.53 761.4,363.76 763.4,363.98 765.4,364.19 767.4,364.41 769.4,364.62 771.4,364.83 773.4,365.04 775.4,365.25 777.4,365.46 779.4,365.67 781.4,365.87 783.4,366.07 785.4,366.27 787.4,366.45 789.4,366.63 791.4,366.82 793.4,367.02 795.4,367.20 797.4,367.33 799.4,367.40 801.4,367.38 803.4,367.28 805.4,367.14 807.4,366.96 809.4,366.66 811.4,366.23 813.4,365.77 815.4,365.35 817.4,365.00 819.4,364.64 821.4,364.28 823.4,363.96 825.4,363.67 827.4,363.44 829.4,363.26 831.4,363.09 833.4,362.93 835.4,362.80 837.4,362.68 839.4,362.58 841.4,362.51 843.4,362.46 845.4,362.40 847.4,362.36 849.4,362.31 851.4,362.27 853.4,362.24 855.4,362.22 857.4,362.20 859.4,362.20 861.4,362.23 863.4,362.29 865.4,362.38 867.4,362.47 869.4,362.57 871.4,362.65 873.4,362.71 875.4,362.75 877.4,362.79 879.4,362.82 881.4,362.85 883.4,362.88 885.4,362.90 887.4,362.94 889.4,362.98 891.4,363.02 893.4,363.07 895.4,363.13 897.4,363.20 899.4,363.27 901.4,363.34 903.4,363.42 905.4,363.50 907.4,363.58 909.4,363.66 911.4,363.74 913.4,363.83 915.4,363.92 917.4,364.02 919.4,364.11 921.4,364.21 923.4,364.31 925.4,364.40 927.4,364.50 929.4,364.61 931.4,364.71 933.4,364.81 935.4,364.92 937.4,365.02 939.4,365.13 941.4,365.23 943.4,365.34 945.4,365.44 947.4,365.55 949.4,365.66 951.4,365.77 953.4,365.87 955.4,365.98 957.4,366.08 959.4,366.17 961.4,366.26 963.4,366.34 965.4,366.42 967.4,366.49 969.4,366.57 971.4,366.64 973.4,366.72 975.4,366.80 977.4,366.90 979.4,366.99 981.4,367.10 983.4,367.21 985.4,367.33 987.4,367.46 989.4,367.59 991.4,367.74 993.4,367.91 995.4,368.11 997.4,368.32 999.4,368.54 1001.4,368.75 1003.4,368.96 1005.4,369.17 1007.4,369.39 1009.4,369.61 1011.4,369.84 1013.4,370.06 1015.4,370.29 1017.4,370.52 1019.3,370.75" fill="none" stroke="#f56505" stroke-width="1.2" stroke-linejoin="round" />
<polyline points="1.4,373.60 3.4,372.76 5.4,371.92 7.4,371.10 9.4,370.28 11.4,369.47 13.4,368.66 15.4,367.86 17.4,367.08 19.4,366.33 21.4,365.61 23.4,364.91 25.4,364.23 27.4,363.55 29.4,362.86 31.4,362.14 33.4,361.41 35.4,360.70 37.4,360.03 39.4,359.44 41.4,358.89 43.4,358.38 45.4,357.89 47.4,357.43 49.4,356.99 51.4,356.54 53.4,356.11 55.4,355.74 57.4,355.44 59.4,355.19 61.4,354.96 63.4,354.76 65.4,354.64 67.4,354.60 69.4,354.74 71.4,354.99 73.4,355.27 75.4,355.46 77.4,355.50 79.4,355.46 81.4,355.40 83.4,355.32 85.4,355.26 87.4,355.21 89.4,355.21 91.4,355.39 93.4,355.69 95.4,355.97 97.4,356.10 99.4,356.07 101.4,355.98 103.4,355.86 105.4,355.76 107.4,355.70 109.4,355.76 111.4,356.00 113.4,356.37 115.4,356.78 117.4,357.15 119.4,357.43 121.4,357.65 123.4,357.86 125.4,358.06 127.4,358.28 129.4,358.54 131.4,358.85 133.4,359.27 135.4,359.75 137.4,360.28 139.4,360.83 141.4,361.47 143.4,362.20 145.4,362.90 147.4,363.47 149.4,363.86 151.4,364.19 153.4,364.47 155.4,364.69 157.4,364.85 159.4,364.99 161.4,365.12 163.4,365.22 165.4,365.28 167.4,365.30 169.4,365.26 171.4,365.18 173.4,365.08 175.4,364.98 177.4,364.88 179.4,364.82 181.4,364.80 183.4,364.80 185.4,364.80 187.4,364.80 189.4,364.80 191.4,364.80 193.4,364.80 195.4,364.80 197.4,364.80 199.4,364.80 201.4,364.79 203.4,364.72 205.4,364.62 207.4,364.50 209.4,364.37 211.4,364.22 213.4,363.99 215.4,363.71 217.4,363.42 219.4,363.18 221.4,363.03 223.4,363.00 225.4,363.04 227.4,363.12 229.4,363.22 231.4,363.35 233.4,363.49 235.4,363.65 237.4,363.94 239.4,364.31 241.4,364.72 243.4,365.07 245.4,365.31 247.4,365.46 249.4,365.61 251.4,365.74 253.4,365.85 255.4,365.93 257.4,365.98 259.4,366.00 261.4,366.00 263.4,366.00 265.4,366.00 267.4,366.00 269.4,366.00 271.4,366.00 273.4,366.00 275.4,366.00 277.4,366.01 279.4,366.10 281.4,366.26 283.4,366.48 285.4,366.74 287.4,367.01 289.4,367.27 291.4,367.52 293.4,367.84 295.4,368.19 297.4,368.51 299.4,368.74 301.4,368.80 303.4,368.80 305.4,368.80 307.4,368.80 309.4,368.80 311.4,368.80 313.4,368.80 315.4,368.80 317.4,368.91 319.4,369.11 321.4,369.35 323.4,369.56 325.4,369.70 327.4,369.79 329.4,369.87 331.4,369.93 333.4,369.98 335.4,370.00 337.4,369.95 339.4,369.76 341.4,369.48 343.4,369.17 345.4,368.89 347.4,368.67 349.4,368.45 351.4,368.24 353.4,368.04 355.4,367.86 357.4,367.70 359.4,367.58 361.4,367.48 363.4,367.38 365.4,367.29 367.4,367.17 369.4,367.01 371.4,366.79 373.4,366.36 375.4,365.82 377.4,365.32 379.4,364.84 381.4,364.42 383.4,364.33 385.4,364.83 387.4,365.64 389.4,366.41 391.4,367.06 393.4,367.40 395.4,367.30 397.4,367.13 399.4,367.01 401.4,367.15 403.4,367.72 405.4,368.36 407.4,369.16 409.4,369.88 411.4,370.00 413.4,370.00 415.4,370.00 417.4,370.00 419.4,370.00 421.4,370.00 423.4,369.90 425.4,369.70 427.4,369.46 429.4,369.20 431.4,368.98 433.4,368.83 435.4,368.80 437.4,368.83 439.4,368.88 441.4,368.94 443.4,369.00 445.4,369.06 447.4,369.09 449.4,369.09 451.4,369.02 453.4,368.89 455.4,368.73 457.4,368.56 459.4,368.41 461.4,368.32 463.4,368.34 465.4,368.82 467.4,369.61 469.4,370.43 471.4,371.21 473.4,372.09 475.4,372.97 477.4,373.73 479.4,374.31 481.4,374.87 483.4,375.37 485.4,375.71 487.4,375.80 489.4,375.77 491.4,375.71 493.4,375.63 495.4,375.46 497.4,375.04 499.4,374.46 501.4,373.83 503.4,373.24 505.4,372.78 507.4,372.35 509.4,371.94 511.4,371.54 513.4,371.17 515.4,370.81 517.4,370.48 519.4,370.16 521.4,369.86 523.4,369.57 525.4,369.28 527.4,369.00 529.4,368.71 531.4,368.41 533.4,368.09 535.4,367.80 537.4,367.56 539.4,367.39 541.4,367.28 543.4,367.17 545.4,367.09 547.4,367.03 549.4,367.00 551.4,367.13 553.4,367.52 555.4,368.01 557.4,368.44 559.4,368.90 561.4,369.38 563.4,369.85 565.4,370.25 567.4,370.55 569.4,370.79 571.4,371.02 573.4,371.22 575.4,371.39 577.4,371.54 579.4,371.67 581.4,371.77 583.4,371.86 585.4,371.94 587.4,372.02 589.4,372.09 591.4,372.16 593.4,372.21 595.4,372.26 597.4,372.29 599.4,372.30 601.4,372.29 603.4,372.25 605.4,372.18 607.4,372.09 609.4,371.99 611.4,371.89 613.4,371.78 615.4,371.68 617.4,371.57 619.4,371.46 621.4,371.34 623.4,371.20 625.4,371.05 627.4,370.89 629.4,370.70 631.4,370.49 633.4,370.16 635.4,369.68 637.4,369.14 639.4,368.61 641.4,368.17 643.4,367.91 645.4,367.77 647.4,367.66 649.4,367.55 651.4,367.48 653.4,367.42 655.4,367.40 657.4,367.41 659.4,367.46 661.4,367.53 663.4,367.62 665.4,367.71 667.4,367.81 669.4,367.89 671.4,367.96 673.4,368.03 675.4,368.10 677.4,368.18 679.4,368.27 681.4,368.41 683.4,368.64 685.4,368.88 687.4,369.06 689.4,369.08 691.4,368.77 693.4,368.21 695.4,367.55 697.4,366.93 699.4,366.37 701.4,365.78 703.4,365.17 705.4,364.59 707.4,364.05 709.4,363.54 711.4,362.99 713.4,362.43 715.4,361.90 717.4,361.46 719.4,361.15 721.4,361.00 723.4,361.00 725.4,361.00 727.4,361.00 729.4,361.00 731.4,361.00 733.4,361.01 735.4,361.07 737.4,361.18 739.4,361.32 741.4,361.50 743.4,361.69 745.4,361.90 747.4,362.23 749.4,362.64 751.4,363.10 753.4,363.56 755.4,363.98 757.4,364.43 759.4,364.90 761.4,365.34 763.4,365.73 765.4,366.00 767.4,366.18 769.4,366.33 771.4,366.45 773.4,366.56 775.4,366.67 777.4,366.77 779.4,366.89 781.4,367.03 783.4,367.20 785.4,367.39 787.4,367.58 789.4,367.75 791.4,367.89 793.4,368.02 795.4,368.14 797.4,368.24 799.4,368.30 801.4,368.21 803.4,367.84 805.4,367.35 807.4,366.56 809.4,365.53 811.4,364.58 813.4,363.94 815.4,363.34 817.4,362.78 819.4,362.29 821.4,361.93 823.4,361.73 825.4,361.70 827.4,361.71 829.4,361.73 831.4,361.75 833.4,361.78 835.4,361.82 837.4,361.93 839.4,362.11 841.4,362.30 843.4,362.44 845.4,362.50 847.4,362.44 849.4,362.31 851.4,362.15 853.4,361.98 855.4,361.85 857.4,361.80 859.4,361.94 861.4,362.26 863.4,362.64 865.4,362.94 867.4,363.10 869.4,363.24 871.4,363.37 873.4,363.48 875.4,363.55 877.4,363.60 879.4,363.59 881.4,363.50 883.4,363.37 885.4,363.23 887.4,363.10 889.4,363.01 891.4,363.01 893.4,363.07 895.4,363.19 897.4,363.35 899.4,363.52 901.4,363.69 903.4,363.84 905.4,363.96 907.4,364.07 909.4,364.17 911.4,364.28 913.4,364.38 915.4,364.48 917.4,364.58 919.4,364.68 921.4,364.78 923.4,364.88 925.4,364.99 927.4,365.09 929.4,365.20 931.4,365.30 933.4,365.40 935.4,365.51 937.4,365.61 939.4,365.70 941.4,365.80 943.4,365.90 945.4,366.00 947.4,366.10 949.4,366.19 951.4,366.29 953.4,366.37 955.4,366.45 957.4,366.52 959.4,366.59 961.4,366.64 963.4,366.69 965.4,366.74 967.4,366.78 969.4,366.84 971.4,366.90 973.4,366.98 975.4,367.07 977.4,367.18 979.4,367.31 981.4,367.47 983.4,367.64 985.4,367.85 987.4,368.14 989.4,368.47 991.4,368.79 993.4,369.08 995.4,369.37 997.4,369.66 999.4,369.93 1001.4,370.17 1003.4,370.41 1005.4,370.64 1007.4,370.86 1009.4,371.08 1011.4,371.29 1013.4,371.49 1015.4,371.67 1017.4,371.85 1019.3,372.00" fill="none" stroke="#0a2cff" stroke-width="1.2" stroke-linejoin="round" />
<line x1="525" x2="545" y1="301.5" y2="301.5" stroke="#6a6a6a" stroke-width="1"/>
<line x1="525" x2="545" y1="303.5" y2="303.5" stroke="#6a6a6a" stroke-width="1"/>
<line x1="525" x2="545" y1="305.5" y2="305.5" stroke="#6a6a6a" stroke-width="1"/>
<line x1="525" x2="545" y1="347.5" y2="347.5" stroke="#6a6a6a" stroke-width="1"/>
<line x1="525" x2="545" y1="349.5" y2="349.5" stroke="#6a6a6a" stroke-width="1"/>
<line x1="525" x2="545" y1="351.5" y2="351.5" stroke="#6a6a6a" stroke-width="1"/>
<g font-family="Liberation Sans, Arial, sans-serif">
<line x1="1071" x2="1076" y1="33.5" y2="33.5" stroke="#8a8a8a" stroke-width="1"/>
<text x="1078.2" y="38.0" font-size="11" fill="#555555">120.0000</text>
<line x1="1071" x2="1076" y1="74.5" y2="74.5" stroke="#8a8a8a" stroke-width="1"/>
<text x="1078.2" y="79.0" font-size="11" fill="#555555">119.0000</text>
<line x1="1071" x2="1076" y1="115.5" y2="115.5" stroke="#8a8a8a" stroke-width="1"/>
<text x="1078.2" y="120.0" font-size="11" fill="#555555">118.0000</text>
<line x1="1071" x2="1076" y1="156.5" y2="156.5" stroke="#8a8a8a" stroke-width="1"/>
<text x="1078.2" y="160.0" font-size="11" fill="#555555">117.0000</text>
<line x1="1071" x2="1076" y1="197.5" y2="197.5" stroke="#8a8a8a" stroke-width="1"/>
<text x="1078.2" y="201.0" font-size="11" fill="#555555">116.0000</text>
<line x1="1071" x2="1076" y1="237.5" y2="237.5" stroke="#8a8a8a" stroke-width="1"/>
<text x="1078.2" y="242.0" font-size="11" fill="#555555">115.0000</text>
<line x1="1071" x2="1076" y1="278.5" y2="278.5" stroke="#8a8a8a" stroke-width="1"/>
<text x="1078.2" y="283.0" font-size="11" fill="#555555">114.0000</text>
<line x1="1071" x2="1076" y1="342.5" y2="342.5" stroke="#8a8a8a" stroke-width="1"/>
<text x="1078.2" y="347.0" font-size="11" fill="#555555">0.0000</text>
<line x1="1071" x2="1076" y1="366.5" y2="366.5" stroke="#8a8a8a" stroke-width="1"/>
<text x="1078.2" y="370.0" font-size="11" fill="#555555">-0.0000</text>
<text x="10.0" y="394" font-size="11" fill="#777" text-anchor="middle">Tue</text>
<line x1="41.5" x2="41.5" y1="378" y2="380" stroke="#999" stroke-width="1"/>
<text x="41.1" y="394" font-size="11" fill="#777" text-anchor="middle">14:30</text>
<line x1="81.5" x2="81.5" y1="378" y2="380" stroke="#999" stroke-width="1"/>
<text x="81.2" y="394" font-size="11" fill="#777" text-anchor="middle">17:15</text>
<line x1="121.5" x2="121.5" y1="378" y2="380" stroke="#999" stroke-width="1"/>
<text x="121.4" y="394" font-size="11" fill="#777" text-anchor="middle">20:00</text>
<line x1="179.5" x2="179.5" y1="378" y2="380" stroke="#333" stroke-width="1"/>
<text x="179.8" y="394" font-size="11" fill="#777" text-anchor="middle">Wed</text>
<line x1="216.5" x2="216.5" y1="378" y2="380" stroke="#999" stroke-width="1"/>
<text x="216.4" y="394" font-size="11" fill="#777" text-anchor="middle">02:30</text>
<line x1="252.5" x2="252.5" y1="378" y2="380" stroke="#999" stroke-width="1"/>
<text x="252.9" y="394" font-size="11" fill="#777" text-anchor="middle">05:00</text>
<line x1="289.5" x2="289.5" y1="378" y2="380" stroke="#999" stroke-width="1"/>
<text x="289.4" y="394" font-size="11" fill="#777" text-anchor="middle">07:30</text>
<line x1="325.5" x2="325.5" y1="378" y2="380" stroke="#999" stroke-width="1"/>
<text x="325.9" y="394" font-size="11" fill="#777" text-anchor="middle">10:00</text>
<line x1="362.5" x2="362.5" y1="378" y2="380" stroke="#999" stroke-width="1"/>
<text x="362.5" y="394" font-size="11" fill="#777" text-anchor="middle">12:30</text>
<line x1="399.5" x2="399.5" y1="378" y2="380" stroke="#999" stroke-width="1"/>
<text x="399.0" y="394" font-size="11" fill="#777" text-anchor="middle">15:00</text>
<line x1="435.5" x2="435.5" y1="378" y2="380" stroke="#999" stroke-width="1"/>
<text x="435.5" y="394" font-size="11" fill="#777" text-anchor="middle">17:30</text>
<line x1="472.5" x2="472.5" y1="378" y2="380" stroke="#999" stroke-width="1"/>
<text x="472.0" y="394" font-size="11" fill="#777" text-anchor="middle">20:00</text>
<line x1="530.5" x2="530.5" y1="378" y2="380" stroke="#333" stroke-width="1"/>
<text x="530.5" y="394" font-size="11" fill="#777" text-anchor="middle">Thu</text>
<line x1="567.5" x2="567.5" y1="378" y2="380" stroke="#999" stroke-width="1"/>
<text x="567.0" y="394" font-size="11" fill="#777" text-anchor="middle">02:30</text>
<line x1="603.5" x2="603.5" y1="378" y2="380" stroke="#999" stroke-width="1"/>
<text x="603.5" y="394" font-size="11" fill="#777" text-anchor="middle">05:00</text>
<line x1="640.5" x2="640.5" y1="378" y2="380" stroke="#999" stroke-width="1"/>
<text x="640.1" y="394" font-size="11" fill="#777" text-anchor="middle">07:30</text>
<line x1="676.5" x2="676.5" y1="378" y2="380" stroke="#999" stroke-width="1"/>
<text x="676.6" y="394" font-size="11" fill="#777" text-anchor="middle">10:00</text>
<line x1="713.5" x2="713.5" y1="378" y2="380" stroke="#999" stroke-width="1"/>
<text x="713.1" y="394" font-size="11" fill="#777" text-anchor="middle">12:30</text>
<line x1="749.5" x2="749.5" y1="378" y2="380" stroke="#999" stroke-width="1"/>
<text x="749.6" y="394" font-size="11" fill="#777" text-anchor="middle">15:00</text>
<line x1="786.5" x2="786.5" y1="378" y2="380" stroke="#999" stroke-width="1"/>
<text x="786.2" y="394" font-size="11" fill="#777" text-anchor="middle">17:30</text>
<line x1="822.5" x2="822.5" y1="378" y2="380" stroke="#999" stroke-width="1"/>
<text x="822.7" y="394" font-size="11" fill="#777" text-anchor="middle">20:00</text>
<line x1="881.5" x2="881.5" y1="378" y2="380" stroke="#333" stroke-width="1"/>
<text x="881.1" y="394" font-size="11" fill="#777" text-anchor="middle">Fri</text>
<line x1="917.5" x2="917.5" y1="378" y2="380" stroke="#999" stroke-width="1"/>
<text x="917.7" y="394" font-size="11" fill="#777" text-anchor="middle">02:30</text>
<line x1="954.5" x2="954.5" y1="378" y2="380" stroke="#999" stroke-width="1"/>
<text x="954.2" y="394" font-size="11" fill="#777" text-anchor="middle">05:00</text>
<line x1="990.5" x2="990.5" y1="378" y2="380" stroke="#999" stroke-width="1"/>
<text x="990.7" y="394" font-size="11" fill="#777" text-anchor="middle">07:30</text>
<line x1="1027.5" x2="1027.5" y1="378" y2="380" stroke="#999" stroke-width="1"/>
<text x="1027.2" y="394" font-size="11" fill="#777" text-anchor="middle">10:00</text>
<line x1="1063.5" x2="1063.5" y1="378" y2="380" stroke="#999" stroke-width="1"/>
<text x="1063.8" y="394" font-size="11" fill="#777" text-anchor="middle">12:30</text>
<polygon points="1067.5,177 1074,170 1133,170 1133,184 1074,184" fill="#2c4168"/>
<text x="1078.5" y="181" font-size="11" font-weight="bold" fill="#fff">116.48642</text>
</g>
<rect x="6" y="7.2" width="63.6" height="21.5" fill="rgba(0,0,0,0.6)"/>
<rect x="6" y="7.2" width="3" height="21.5" fill="#2b836c"/>
<text x="15.3" y="22.35" font-family="Liberation Sans, Arial, sans-serif" font-size="11" font-weight="bold" letter-spacing="-0.1" fill="#fff">ETH/USD</text>
<rect x="6" y="34" width="70.8" height="21.5" fill="rgba(0,0,0,0.6)"/>
<rect x="6" y="34" width="3" height="21.5" fill="#0030ff"/>
<text x="15.3" y="49.15" font-family="Liberation Sans, Arial, sans-serif" font-size="11" font-weight="bold" letter-spacing="-0.1" fill="#fff">SMA (50,0)</text>
<rect x="6" y="61" width="76.7" height="21.7" fill="rgba(0,0,0,0.6)"/>
<rect x="6" y="61" width="3" height="21.7" fill="#f06a00"/>
<text x="15.3" y="76.25" font-family="Liberation Sans, Arial, sans-serif" font-size="11" font-weight="bold" letter-spacing="-0.1" fill="#fff">SMA (100,0)</text>
<rect x="6" y="312" width="97" height="21.5" fill="rgba(0,0,0,0.6)"/>
<rect x="6" y="312" width="3" height="21.5" fill="#00e000"/>
<text x="15.3" y="327.15" font-family="Liberation Sans, Arial, sans-serif" font-size="11" font-weight="bold" letter-spacing="-0.1" fill="#fff">RSI (14,70,30,1)</text>
<rect x="6" y="358" width="94.8" height="20.5" fill="rgba(0,0,0,0.6)"/>
<rect x="6" y="358" width="3" height="20.5" fill="#0030ff"/>
<text x="15.3" y="372.65" font-family="Liberation Sans, Arial, sans-serif" font-size="11" font-weight="bold" letter-spacing="-0.1" fill="#fff">MACD (12,26,9)</text>
<rect x="71.2" y="7.2" width="21.5" height="21.5" fill="rgba(0,0,0,0.6)"/>
<rect x="94.2" y="7.2" width="21.5" height="21.5" fill="rgba(0,0,0,0.6)"/>
<path d="M 88.1 19.3 A 5.3 5.3 0 1 1 83.2 13.4" fill="none" stroke="#fff" stroke-width="1.3"/>
<path d="M 82.1 10.8 L 85.4 13.5 L 82.8 16 Z" fill="#fff"/>
<path d="M 100 13.7 H 111.2 V 23.4 H 99.8 V 18" fill="none" stroke="#fff" stroke-width="1.1"/>
<path d="M 97.6 13.7 L 100.9 11 L 100.9 16.3 Z" fill="#fff"/>
<path d="M 102.4 21 V 18 M 105.5 21 V 16.9 M 108.7 21 V 15.8" stroke="#fff" stroke-width="1.1" fill="none"/>
</svg>
</body></html>
